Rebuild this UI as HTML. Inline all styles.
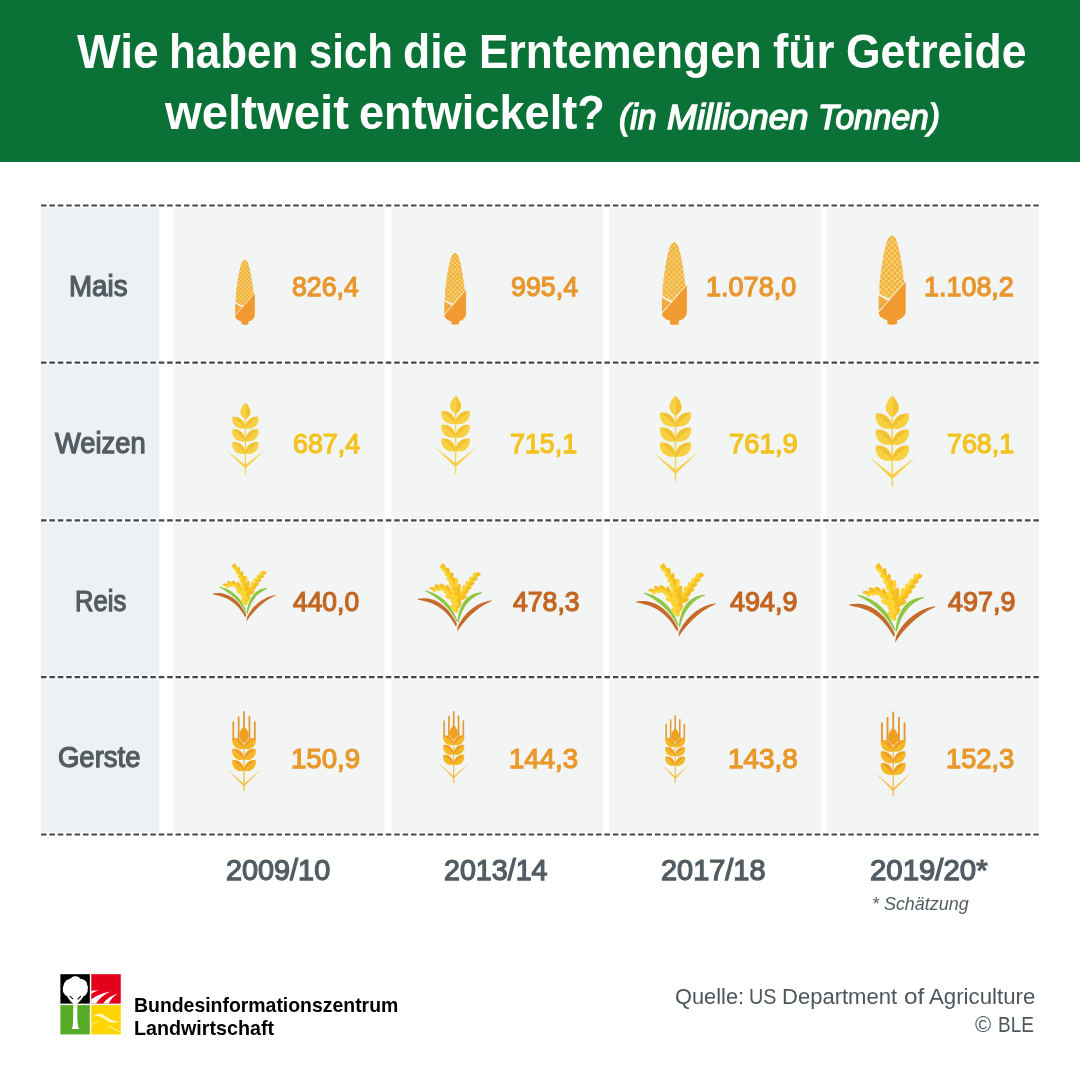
<!DOCTYPE html>
<html lang="de"><head><meta charset="utf-8"><title>Erntemengen für Getreide weltweit</title>
<style>
html,body{margin:0;padding:0;background:#fff}
body{width:1080px;height:1080px;position:relative;overflow:hidden;font-family:'Liberation Sans',sans-serif}
.hd{position:absolute;left:0;top:0;width:1080px;height:162px;background:#0a7236}
.t{display:block;position:absolute;white-space:nowrap;line-height:1;transform-origin:0 0}
svg{position:absolute;left:0;top:0}
h1,p{margin:0;font-size:inherit;font-weight:inherit}
</style></head><body>
<div class="hd"></div>
<svg width="1080" height="1080" viewBox="0 0 1080 1080">
<rect x="41" y="207.4" width="118.4" height="625" fill="#edf1f4"/>
<rect x="173" y="207.4" width="211.5" height="625" fill="#f2f5f4"/>
<rect x="391.5" y="207.4" width="211.7" height="625" fill="#f2f5f4"/>
<rect x="609" y="207.4" width="212.0" height="625" fill="#f2f5f4"/>
<rect x="825.9" y="207.4" width="213.1" height="625" fill="#f2f5f4"/>
<line x1="41" y1="205.5" x2="1039" y2="205.5" stroke="#fff" stroke-width="4.6" opacity="0.85"/>
<line x1="41" y1="205.5" x2="1038.8" y2="205.5" stroke="#42484d" stroke-width="2.2" stroke-dasharray="5.5 2.91"/>
<line x1="41" y1="362.6" x2="1039" y2="362.6" stroke="#fff" stroke-width="4.6" opacity="0.85"/>
<line x1="41" y1="362.6" x2="1038.8" y2="362.6" stroke="#42484d" stroke-width="2.2" stroke-dasharray="5.5 2.91"/>
<line x1="41" y1="520.3" x2="1039" y2="520.3" stroke="#fff" stroke-width="4.6" opacity="0.85"/>
<line x1="41" y1="520.3" x2="1038.8" y2="520.3" stroke="#42484d" stroke-width="2.2" stroke-dasharray="5.5 2.91"/>
<line x1="41" y1="677.1" x2="1039" y2="677.1" stroke="#fff" stroke-width="4.6" opacity="0.85"/>
<line x1="41" y1="677.1" x2="1038.8" y2="677.1" stroke="#42484d" stroke-width="2.2" stroke-dasharray="5.5 2.91"/>
<line x1="41" y1="834.5" x2="1039" y2="834.5" stroke="#fff" stroke-width="4.6" opacity="0.85"/>
<line x1="41" y1="834.5" x2="1038.8" y2="834.5" stroke="#42484d" stroke-width="2.2" stroke-dasharray="5.5 2.91"/>
<g transform="translate(235.15 259.6) scale(0.7244)"><clipPath id="cc245"><path d="M-2 -2 L30 -2 L30 42.3 L10.9 64.1 L-2 57.2Z"/></clipPath><clipPath id="cn245"><path d="M13.3 0 L11.3 1.5 L9.81 3 L9.1 4.5 L8.51 6 L8 7.5 L7.54 9 L7.12 10.5 L6.73 12 L6.37 13.5 L6.03 15 L5.71 16.5 L5.4 18 L5.11 19.5 L4.83 21 L4.56 22.5 L4.3 24 L4.05 25.5 L3.8 27 L3.57 28.5 L3.34 30 L3.11 31.5 L2.89 33 L2.68 34.5 L2.47 36 L2.27 37.5 L2.07 39 L1.88 40.5 L1.69 42 L1.5 43.5 L1.32 45 L1.14 46.5 L0.96 48 L0.9 49.5 L0.9 51 L0.9 52.5 L0.9 54 L0.9 55.5 L0.9 57 L0.9 58.5 L0.9 60 L0.9 61.5 L0.9 63 L0.9 64.5 L0.9 66 L0.9 67.5 L0.9 69 L25.6 69 L25.6 67.5 L25.6 66 L25.6 64.5 L25.6 63 L25.6 61.5 L25.6 60 L25.6 58.5 L25.6 57 L25.6 55.5 L25.6 54 L25.6 52.5 L25.6 51 L25.6 49.5 L25.6 48 L25.46 46.5 L25.28 45 L25.1 43.5 L24.91 42 L24.72 40.5 L24.53 39 L24.33 37.5 L24.13 36 L23.92 34.5 L23.71 33 L23.49 31.5 L23.26 30 L23.03 28.5 L22.8 27 L22.55 25.5 L22.3 24 L22.04 22.5 L21.77 21 L21.49 19.5 L21.2 18 L20.89 16.5 L20.57 15 L20.23 13.5 L19.87 12 L19.48 10.5 L19.06 9 L18.6 7.5 L18.09 6 L17.5 4.5 L16.79 3 L15.3 1.5 L13.3 0Z"/></clipPath><g clip-path="url(#cc245)"><g clip-path="url(#cn245)"><rect x="0" y="0" width="28" height="70" fill="#f7d27a"/><g fill="#f1b23c"><circle cx="13.3" cy="1.6" r="1.75"/><circle cx="10.5" cy="4.4" r="1.75"/><circle cx="16.1" cy="4.4" r="1.75"/><circle cx="7.7" cy="7.2" r="1.75"/><circle cx="13.3" cy="7.2" r="1.75"/><circle cx="18.9" cy="7.2" r="1.75"/><circle cx="10.5" cy="10" r="1.75"/><circle cx="16.1" cy="10" r="1.75"/><circle cx="7.7" cy="12.8" r="1.75"/><circle cx="13.3" cy="12.8" r="1.75"/><circle cx="18.9" cy="12.8" r="1.75"/><circle cx="4.9" cy="15.6" r="1.75"/><circle cx="10.5" cy="15.6" r="1.75"/><circle cx="16.1" cy="15.6" r="1.75"/><circle cx="21.7" cy="15.6" r="1.75"/><circle cx="7.7" cy="18.4" r="1.75"/><circle cx="13.3" cy="18.4" r="1.75"/><circle cx="18.9" cy="18.4" r="1.75"/><circle cx="4.9" cy="21.2" r="1.75"/><circle cx="10.5" cy="21.2" r="1.75"/><circle cx="16.1" cy="21.2" r="1.75"/><circle cx="21.7" cy="21.2" r="1.75"/><circle cx="7.7" cy="24" r="1.75"/><circle cx="13.3" cy="24" r="1.75"/><circle cx="18.9" cy="24" r="1.75"/><circle cx="4.9" cy="26.8" r="1.75"/><circle cx="10.5" cy="26.8" r="1.75"/><circle cx="16.1" cy="26.8" r="1.75"/><circle cx="21.7" cy="26.8" r="1.75"/><circle cx="2.1" cy="29.6" r="1.75"/><circle cx="7.7" cy="29.6" r="1.75"/><circle cx="13.3" cy="29.6" r="1.75"/><circle cx="18.9" cy="29.6" r="1.75"/><circle cx="24.5" cy="29.6" r="1.75"/><circle cx="4.9" cy="32.4" r="1.75"/><circle cx="10.5" cy="32.4" r="1.75"/><circle cx="16.1" cy="32.4" r="1.75"/><circle cx="21.7" cy="32.4" r="1.75"/><circle cx="2.1" cy="35.2" r="1.75"/><circle cx="7.7" cy="35.2" r="1.75"/><circle cx="13.3" cy="35.2" r="1.75"/><circle cx="18.9" cy="35.2" r="1.75"/><circle cx="24.5" cy="35.2" r="1.75"/><circle cx="4.9" cy="38" r="1.75"/><circle cx="10.5" cy="38" r="1.75"/><circle cx="16.1" cy="38" r="1.75"/><circle cx="21.7" cy="38" r="1.75"/><circle cx="2.1" cy="40.8" r="1.75"/><circle cx="7.7" cy="40.8" r="1.75"/><circle cx="13.3" cy="40.8" r="1.75"/><circle cx="18.9" cy="40.8" r="1.75"/><circle cx="24.5" cy="40.8" r="1.75"/><circle cx="4.9" cy="43.6" r="1.75"/><circle cx="10.5" cy="43.6" r="1.75"/><circle cx="16.1" cy="43.6" r="1.75"/><circle cx="21.7" cy="43.6" r="1.75"/><circle cx="2.1" cy="46.4" r="1.75"/><circle cx="7.7" cy="46.4" r="1.75"/><circle cx="13.3" cy="46.4" r="1.75"/><circle cx="18.9" cy="46.4" r="1.75"/><circle cx="24.5" cy="46.4" r="1.75"/><circle cx="-0.7" cy="49.2" r="1.75"/><circle cx="4.9" cy="49.2" r="1.75"/><circle cx="10.5" cy="49.2" r="1.75"/><circle cx="16.1" cy="49.2" r="1.75"/><circle cx="21.7" cy="49.2" r="1.75"/><circle cx="27.3" cy="49.2" r="1.75"/><circle cx="2.1" cy="52" r="1.75"/><circle cx="7.7" cy="52" r="1.75"/><circle cx="13.3" cy="52" r="1.75"/><circle cx="18.9" cy="52" r="1.75"/><circle cx="24.5" cy="52" r="1.75"/><circle cx="-0.7" cy="54.8" r="1.75"/><circle cx="4.9" cy="54.8" r="1.75"/><circle cx="10.5" cy="54.8" r="1.75"/><circle cx="16.1" cy="54.8" r="1.75"/><circle cx="21.7" cy="54.8" r="1.75"/><circle cx="27.3" cy="54.8" r="1.75"/><circle cx="2.1" cy="57.6" r="1.75"/><circle cx="7.7" cy="57.6" r="1.75"/><circle cx="13.3" cy="57.6" r="1.75"/><circle cx="18.9" cy="57.6" r="1.75"/><circle cx="24.5" cy="57.6" r="1.75"/><circle cx="-0.7" cy="60.4" r="1.75"/><circle cx="4.9" cy="60.4" r="1.75"/><circle cx="10.5" cy="60.4" r="1.75"/><circle cx="16.1" cy="60.4" r="1.75"/><circle cx="21.7" cy="60.4" r="1.75"/><circle cx="27.3" cy="60.4" r="1.75"/><circle cx="2.1" cy="63.2" r="1.75"/><circle cx="7.7" cy="63.2" r="1.75"/><circle cx="13.3" cy="63.2" r="1.75"/><circle cx="18.9" cy="63.2" r="1.75"/><circle cx="24.5" cy="63.2" r="1.75"/><circle cx="-0.7" cy="66" r="1.75"/><circle cx="4.9" cy="66" r="1.75"/><circle cx="10.5" cy="66" r="1.75"/><circle cx="16.1" cy="66" r="1.75"/><circle cx="21.7" cy="66" r="1.75"/><circle cx="27.3" cy="66" r="1.75"/><circle cx="2.1" cy="68.8" r="1.75"/><circle cx="7.7" cy="68.8" r="1.75"/><circle cx="13.3" cy="68.8" r="1.75"/><circle cx="18.9" cy="68.8" r="1.75"/><circle cx="24.5" cy="68.8" r="1.75"/></g></g></g><path d="M0 60.6 L9.6 65.8 L0 76.4Z" fill="#f3ab3d"/><path d="M27.2 46.6 L27.2 76 C27.2 81 23 84.5 18.3 85.6 L18.6 88.2 C18.6 89.6 17 89.9 13.6 89.9 C10.2 89.9 8.6 89.6 8.6 88.2 L8.9 85.6 C4.5 84.5 0 81.5 0 78 L27.2 46.6Z" fill="#f19a32"/></g>
<g transform="translate(444.3 252.7) scale(0.8011)"><clipPath id="cc455"><path d="M-2 -2 L30 -2 L30 42.3 L10.9 64.1 L-2 57.2Z"/></clipPath><clipPath id="cn455"><path d="M13.3 0 L11.3 1.5 L9.81 3 L9.1 4.5 L8.51 6 L8 7.5 L7.54 9 L7.12 10.5 L6.73 12 L6.37 13.5 L6.03 15 L5.71 16.5 L5.4 18 L5.11 19.5 L4.83 21 L4.56 22.5 L4.3 24 L4.05 25.5 L3.8 27 L3.57 28.5 L3.34 30 L3.11 31.5 L2.89 33 L2.68 34.5 L2.47 36 L2.27 37.5 L2.07 39 L1.88 40.5 L1.69 42 L1.5 43.5 L1.32 45 L1.14 46.5 L0.96 48 L0.9 49.5 L0.9 51 L0.9 52.5 L0.9 54 L0.9 55.5 L0.9 57 L0.9 58.5 L0.9 60 L0.9 61.5 L0.9 63 L0.9 64.5 L0.9 66 L0.9 67.5 L0.9 69 L25.6 69 L25.6 67.5 L25.6 66 L25.6 64.5 L25.6 63 L25.6 61.5 L25.6 60 L25.6 58.5 L25.6 57 L25.6 55.5 L25.6 54 L25.6 52.5 L25.6 51 L25.6 49.5 L25.6 48 L25.46 46.5 L25.28 45 L25.1 43.5 L24.91 42 L24.72 40.5 L24.53 39 L24.33 37.5 L24.13 36 L23.92 34.5 L23.71 33 L23.49 31.5 L23.26 30 L23.03 28.5 L22.8 27 L22.55 25.5 L22.3 24 L22.04 22.5 L21.77 21 L21.49 19.5 L21.2 18 L20.89 16.5 L20.57 15 L20.23 13.5 L19.87 12 L19.48 10.5 L19.06 9 L18.6 7.5 L18.09 6 L17.5 4.5 L16.79 3 L15.3 1.5 L13.3 0Z"/></clipPath><g clip-path="url(#cc455)"><g clip-path="url(#cn455)"><rect x="0" y="0" width="28" height="70" fill="#f7d27a"/><g fill="#f1b23c"><circle cx="13.3" cy="1.6" r="1.75"/><circle cx="10.5" cy="4.4" r="1.75"/><circle cx="16.1" cy="4.4" r="1.75"/><circle cx="7.7" cy="7.2" r="1.75"/><circle cx="13.3" cy="7.2" r="1.75"/><circle cx="18.9" cy="7.2" r="1.75"/><circle cx="10.5" cy="10" r="1.75"/><circle cx="16.1" cy="10" r="1.75"/><circle cx="7.7" cy="12.8" r="1.75"/><circle cx="13.3" cy="12.8" r="1.75"/><circle cx="18.9" cy="12.8" r="1.75"/><circle cx="4.9" cy="15.6" r="1.75"/><circle cx="10.5" cy="15.6" r="1.75"/><circle cx="16.1" cy="15.6" r="1.75"/><circle cx="21.7" cy="15.6" r="1.75"/><circle cx="7.7" cy="18.4" r="1.75"/><circle cx="13.3" cy="18.4" r="1.75"/><circle cx="18.9" cy="18.4" r="1.75"/><circle cx="4.9" cy="21.2" r="1.75"/><circle cx="10.5" cy="21.2" r="1.75"/><circle cx="16.1" cy="21.2" r="1.75"/><circle cx="21.7" cy="21.2" r="1.75"/><circle cx="7.7" cy="24" r="1.75"/><circle cx="13.3" cy="24" r="1.75"/><circle cx="18.9" cy="24" r="1.75"/><circle cx="4.9" cy="26.8" r="1.75"/><circle cx="10.5" cy="26.8" r="1.75"/><circle cx="16.1" cy="26.8" r="1.75"/><circle cx="21.7" cy="26.8" r="1.75"/><circle cx="2.1" cy="29.6" r="1.75"/><circle cx="7.7" cy="29.6" r="1.75"/><circle cx="13.3" cy="29.6" r="1.75"/><circle cx="18.9" cy="29.6" r="1.75"/><circle cx="24.5" cy="29.6" r="1.75"/><circle cx="4.9" cy="32.4" r="1.75"/><circle cx="10.5" cy="32.4" r="1.75"/><circle cx="16.1" cy="32.4" r="1.75"/><circle cx="21.7" cy="32.4" r="1.75"/><circle cx="2.1" cy="35.2" r="1.75"/><circle cx="7.7" cy="35.2" r="1.75"/><circle cx="13.3" cy="35.2" r="1.75"/><circle cx="18.9" cy="35.2" r="1.75"/><circle cx="24.5" cy="35.2" r="1.75"/><circle cx="4.9" cy="38" r="1.75"/><circle cx="10.5" cy="38" r="1.75"/><circle cx="16.1" cy="38" r="1.75"/><circle cx="21.7" cy="38" r="1.75"/><circle cx="2.1" cy="40.8" r="1.75"/><circle cx="7.7" cy="40.8" r="1.75"/><circle cx="13.3" cy="40.8" r="1.75"/><circle cx="18.9" cy="40.8" r="1.75"/><circle cx="24.5" cy="40.8" r="1.75"/><circle cx="4.9" cy="43.6" r="1.75"/><circle cx="10.5" cy="43.6" r="1.75"/><circle cx="16.1" cy="43.6" r="1.75"/><circle cx="21.7" cy="43.6" r="1.75"/><circle cx="2.1" cy="46.4" r="1.75"/><circle cx="7.7" cy="46.4" r="1.75"/><circle cx="13.3" cy="46.4" r="1.75"/><circle cx="18.9" cy="46.4" r="1.75"/><circle cx="24.5" cy="46.4" r="1.75"/><circle cx="-0.7" cy="49.2" r="1.75"/><circle cx="4.9" cy="49.2" r="1.75"/><circle cx="10.5" cy="49.2" r="1.75"/><circle cx="16.1" cy="49.2" r="1.75"/><circle cx="21.7" cy="49.2" r="1.75"/><circle cx="27.3" cy="49.2" r="1.75"/><circle cx="2.1" cy="52" r="1.75"/><circle cx="7.7" cy="52" r="1.75"/><circle cx="13.3" cy="52" r="1.75"/><circle cx="18.9" cy="52" r="1.75"/><circle cx="24.5" cy="52" r="1.75"/><circle cx="-0.7" cy="54.8" r="1.75"/><circle cx="4.9" cy="54.8" r="1.75"/><circle cx="10.5" cy="54.8" r="1.75"/><circle cx="16.1" cy="54.8" r="1.75"/><circle cx="21.7" cy="54.8" r="1.75"/><circle cx="27.3" cy="54.8" r="1.75"/><circle cx="2.1" cy="57.6" r="1.75"/><circle cx="7.7" cy="57.6" r="1.75"/><circle cx="13.3" cy="57.6" r="1.75"/><circle cx="18.9" cy="57.6" r="1.75"/><circle cx="24.5" cy="57.6" r="1.75"/><circle cx="-0.7" cy="60.4" r="1.75"/><circle cx="4.9" cy="60.4" r="1.75"/><circle cx="10.5" cy="60.4" r="1.75"/><circle cx="16.1" cy="60.4" r="1.75"/><circle cx="21.7" cy="60.4" r="1.75"/><circle cx="27.3" cy="60.4" r="1.75"/><circle cx="2.1" cy="63.2" r="1.75"/><circle cx="7.7" cy="63.2" r="1.75"/><circle cx="13.3" cy="63.2" r="1.75"/><circle cx="18.9" cy="63.2" r="1.75"/><circle cx="24.5" cy="63.2" r="1.75"/><circle cx="-0.7" cy="66" r="1.75"/><circle cx="4.9" cy="66" r="1.75"/><circle cx="10.5" cy="66" r="1.75"/><circle cx="16.1" cy="66" r="1.75"/><circle cx="21.7" cy="66" r="1.75"/><circle cx="27.3" cy="66" r="1.75"/><circle cx="2.1" cy="68.8" r="1.75"/><circle cx="7.7" cy="68.8" r="1.75"/><circle cx="13.3" cy="68.8" r="1.75"/><circle cx="18.9" cy="68.8" r="1.75"/><circle cx="24.5" cy="68.8" r="1.75"/></g></g></g><path d="M0 60.6 L9.6 65.8 L0 76.4Z" fill="#f3ab3d"/><path d="M27.2 46.6 L27.2 76 C27.2 81 23 84.5 18.3 85.6 L18.6 88.2 C18.6 89.6 17 89.9 13.6 89.9 C10.2 89.9 8.6 89.6 8.6 88.2 L8.9 85.6 C4.5 84.5 0 81.5 0 78 L27.2 46.6Z" fill="#f19a32"/></g>
<g transform="translate(661.9 242.1) scale(0.9189)"><clipPath id="cc674"><path d="M-2 -2 L30 -2 L30 42.3 L10.9 64.1 L-2 57.2Z"/></clipPath><clipPath id="cn674"><path d="M13.3 0 L11.3 1.5 L9.81 3 L9.1 4.5 L8.51 6 L8 7.5 L7.54 9 L7.12 10.5 L6.73 12 L6.37 13.5 L6.03 15 L5.71 16.5 L5.4 18 L5.11 19.5 L4.83 21 L4.56 22.5 L4.3 24 L4.05 25.5 L3.8 27 L3.57 28.5 L3.34 30 L3.11 31.5 L2.89 33 L2.68 34.5 L2.47 36 L2.27 37.5 L2.07 39 L1.88 40.5 L1.69 42 L1.5 43.5 L1.32 45 L1.14 46.5 L0.96 48 L0.9 49.5 L0.9 51 L0.9 52.5 L0.9 54 L0.9 55.5 L0.9 57 L0.9 58.5 L0.9 60 L0.9 61.5 L0.9 63 L0.9 64.5 L0.9 66 L0.9 67.5 L0.9 69 L25.6 69 L25.6 67.5 L25.6 66 L25.6 64.5 L25.6 63 L25.6 61.5 L25.6 60 L25.6 58.5 L25.6 57 L25.6 55.5 L25.6 54 L25.6 52.5 L25.6 51 L25.6 49.5 L25.6 48 L25.46 46.5 L25.28 45 L25.1 43.5 L24.91 42 L24.72 40.5 L24.53 39 L24.33 37.5 L24.13 36 L23.92 34.5 L23.71 33 L23.49 31.5 L23.26 30 L23.03 28.5 L22.8 27 L22.55 25.5 L22.3 24 L22.04 22.5 L21.77 21 L21.49 19.5 L21.2 18 L20.89 16.5 L20.57 15 L20.23 13.5 L19.87 12 L19.48 10.5 L19.06 9 L18.6 7.5 L18.09 6 L17.5 4.5 L16.79 3 L15.3 1.5 L13.3 0Z"/></clipPath><g clip-path="url(#cc674)"><g clip-path="url(#cn674)"><rect x="0" y="0" width="28" height="70" fill="#f7d27a"/><g fill="#f1b23c"><circle cx="13.3" cy="1.6" r="1.75"/><circle cx="10.5" cy="4.4" r="1.75"/><circle cx="16.1" cy="4.4" r="1.75"/><circle cx="7.7" cy="7.2" r="1.75"/><circle cx="13.3" cy="7.2" r="1.75"/><circle cx="18.9" cy="7.2" r="1.75"/><circle cx="10.5" cy="10" r="1.75"/><circle cx="16.1" cy="10" r="1.75"/><circle cx="7.7" cy="12.8" r="1.75"/><circle cx="13.3" cy="12.8" r="1.75"/><circle cx="18.9" cy="12.8" r="1.75"/><circle cx="4.9" cy="15.6" r="1.75"/><circle cx="10.5" cy="15.6" r="1.75"/><circle cx="16.1" cy="15.6" r="1.75"/><circle cx="21.7" cy="15.6" r="1.75"/><circle cx="7.7" cy="18.4" r="1.75"/><circle cx="13.3" cy="18.4" r="1.75"/><circle cx="18.9" cy="18.4" r="1.75"/><circle cx="4.9" cy="21.2" r="1.75"/><circle cx="10.5" cy="21.2" r="1.75"/><circle cx="16.1" cy="21.2" r="1.75"/><circle cx="21.7" cy="21.2" r="1.75"/><circle cx="7.7" cy="24" r="1.75"/><circle cx="13.3" cy="24" r="1.75"/><circle cx="18.9" cy="24" r="1.75"/><circle cx="4.9" cy="26.8" r="1.75"/><circle cx="10.5" cy="26.8" r="1.75"/><circle cx="16.1" cy="26.8" r="1.75"/><circle cx="21.7" cy="26.8" r="1.75"/><circle cx="2.1" cy="29.6" r="1.75"/><circle cx="7.7" cy="29.6" r="1.75"/><circle cx="13.3" cy="29.6" r="1.75"/><circle cx="18.9" cy="29.6" r="1.75"/><circle cx="24.5" cy="29.6" r="1.75"/><circle cx="4.9" cy="32.4" r="1.75"/><circle cx="10.5" cy="32.4" r="1.75"/><circle cx="16.1" cy="32.4" r="1.75"/><circle cx="21.7" cy="32.4" r="1.75"/><circle cx="2.1" cy="35.2" r="1.75"/><circle cx="7.7" cy="35.2" r="1.75"/><circle cx="13.3" cy="35.2" r="1.75"/><circle cx="18.9" cy="35.2" r="1.75"/><circle cx="24.5" cy="35.2" r="1.75"/><circle cx="4.9" cy="38" r="1.75"/><circle cx="10.5" cy="38" r="1.75"/><circle cx="16.1" cy="38" r="1.75"/><circle cx="21.7" cy="38" r="1.75"/><circle cx="2.1" cy="40.8" r="1.75"/><circle cx="7.7" cy="40.8" r="1.75"/><circle cx="13.3" cy="40.8" r="1.75"/><circle cx="18.9" cy="40.8" r="1.75"/><circle cx="24.5" cy="40.8" r="1.75"/><circle cx="4.9" cy="43.6" r="1.75"/><circle cx="10.5" cy="43.6" r="1.75"/><circle cx="16.1" cy="43.6" r="1.75"/><circle cx="21.7" cy="43.6" r="1.75"/><circle cx="2.1" cy="46.4" r="1.75"/><circle cx="7.7" cy="46.4" r="1.75"/><circle cx="13.3" cy="46.4" r="1.75"/><circle cx="18.9" cy="46.4" r="1.75"/><circle cx="24.5" cy="46.4" r="1.75"/><circle cx="-0.7" cy="49.2" r="1.75"/><circle cx="4.9" cy="49.2" r="1.75"/><circle cx="10.5" cy="49.2" r="1.75"/><circle cx="16.1" cy="49.2" r="1.75"/><circle cx="21.7" cy="49.2" r="1.75"/><circle cx="27.3" cy="49.2" r="1.75"/><circle cx="2.1" cy="52" r="1.75"/><circle cx="7.7" cy="52" r="1.75"/><circle cx="13.3" cy="52" r="1.75"/><circle cx="18.9" cy="52" r="1.75"/><circle cx="24.5" cy="52" r="1.75"/><circle cx="-0.7" cy="54.8" r="1.75"/><circle cx="4.9" cy="54.8" r="1.75"/><circle cx="10.5" cy="54.8" r="1.75"/><circle cx="16.1" cy="54.8" r="1.75"/><circle cx="21.7" cy="54.8" r="1.75"/><circle cx="27.3" cy="54.8" r="1.75"/><circle cx="2.1" cy="57.6" r="1.75"/><circle cx="7.7" cy="57.6" r="1.75"/><circle cx="13.3" cy="57.6" r="1.75"/><circle cx="18.9" cy="57.6" r="1.75"/><circle cx="24.5" cy="57.6" r="1.75"/><circle cx="-0.7" cy="60.4" r="1.75"/><circle cx="4.9" cy="60.4" r="1.75"/><circle cx="10.5" cy="60.4" r="1.75"/><circle cx="16.1" cy="60.4" r="1.75"/><circle cx="21.7" cy="60.4" r="1.75"/><circle cx="27.3" cy="60.4" r="1.75"/><circle cx="2.1" cy="63.2" r="1.75"/><circle cx="7.7" cy="63.2" r="1.75"/><circle cx="13.3" cy="63.2" r="1.75"/><circle cx="18.9" cy="63.2" r="1.75"/><circle cx="24.5" cy="63.2" r="1.75"/><circle cx="-0.7" cy="66" r="1.75"/><circle cx="4.9" cy="66" r="1.75"/><circle cx="10.5" cy="66" r="1.75"/><circle cx="16.1" cy="66" r="1.75"/><circle cx="21.7" cy="66" r="1.75"/><circle cx="27.3" cy="66" r="1.75"/><circle cx="2.1" cy="68.8" r="1.75"/><circle cx="7.7" cy="68.8" r="1.75"/><circle cx="13.3" cy="68.8" r="1.75"/><circle cx="18.9" cy="68.8" r="1.75"/><circle cx="24.5" cy="68.8" r="1.75"/></g></g></g><path d="M0 60.6 L9.6 65.8 L0 76.4Z" fill="#f3ab3d"/><path d="M27.2 46.6 L27.2 76 C27.2 81 23 84.5 18.3 85.6 L18.6 88.2 C18.6 89.6 17 89.9 13.6 89.9 C10.2 89.9 8.6 89.6 8.6 88.2 L8.9 85.6 C4.5 84.5 0 81.5 0 78 L27.2 46.6Z" fill="#f19a32"/></g>
<g transform="translate(878.66 235.2) scale(0.9956)"><clipPath id="cc892"><path d="M-2 -2 L30 -2 L30 42.3 L10.9 64.1 L-2 57.2Z"/></clipPath><clipPath id="cn892"><path d="M13.3 0 L11.3 1.5 L9.81 3 L9.1 4.5 L8.51 6 L8 7.5 L7.54 9 L7.12 10.5 L6.73 12 L6.37 13.5 L6.03 15 L5.71 16.5 L5.4 18 L5.11 19.5 L4.83 21 L4.56 22.5 L4.3 24 L4.05 25.5 L3.8 27 L3.57 28.5 L3.34 30 L3.11 31.5 L2.89 33 L2.68 34.5 L2.47 36 L2.27 37.5 L2.07 39 L1.88 40.5 L1.69 42 L1.5 43.5 L1.32 45 L1.14 46.5 L0.96 48 L0.9 49.5 L0.9 51 L0.9 52.5 L0.9 54 L0.9 55.5 L0.9 57 L0.9 58.5 L0.9 60 L0.9 61.5 L0.9 63 L0.9 64.5 L0.9 66 L0.9 67.5 L0.9 69 L25.6 69 L25.6 67.5 L25.6 66 L25.6 64.5 L25.6 63 L25.6 61.5 L25.6 60 L25.6 58.5 L25.6 57 L25.6 55.5 L25.6 54 L25.6 52.5 L25.6 51 L25.6 49.5 L25.6 48 L25.46 46.5 L25.28 45 L25.1 43.5 L24.91 42 L24.72 40.5 L24.53 39 L24.33 37.5 L24.13 36 L23.92 34.5 L23.71 33 L23.49 31.5 L23.26 30 L23.03 28.5 L22.8 27 L22.55 25.5 L22.3 24 L22.04 22.5 L21.77 21 L21.49 19.5 L21.2 18 L20.89 16.5 L20.57 15 L20.23 13.5 L19.87 12 L19.48 10.5 L19.06 9 L18.6 7.5 L18.09 6 L17.5 4.5 L16.79 3 L15.3 1.5 L13.3 0Z"/></clipPath><g clip-path="url(#cc892)"><g clip-path="url(#cn892)"><rect x="0" y="0" width="28" height="70" fill="#f7d27a"/><g fill="#f1b23c"><circle cx="13.3" cy="1.6" r="1.75"/><circle cx="10.5" cy="4.4" r="1.75"/><circle cx="16.1" cy="4.4" r="1.75"/><circle cx="7.7" cy="7.2" r="1.75"/><circle cx="13.3" cy="7.2" r="1.75"/><circle cx="18.9" cy="7.2" r="1.75"/><circle cx="10.5" cy="10" r="1.75"/><circle cx="16.1" cy="10" r="1.75"/><circle cx="7.7" cy="12.8" r="1.75"/><circle cx="13.3" cy="12.8" r="1.75"/><circle cx="18.9" cy="12.8" r="1.75"/><circle cx="4.9" cy="15.6" r="1.75"/><circle cx="10.5" cy="15.6" r="1.75"/><circle cx="16.1" cy="15.6" r="1.75"/><circle cx="21.7" cy="15.6" r="1.75"/><circle cx="7.7" cy="18.4" r="1.75"/><circle cx="13.3" cy="18.4" r="1.75"/><circle cx="18.9" cy="18.4" r="1.75"/><circle cx="4.9" cy="21.2" r="1.75"/><circle cx="10.5" cy="21.2" r="1.75"/><circle cx="16.1" cy="21.2" r="1.75"/><circle cx="21.7" cy="21.2" r="1.75"/><circle cx="7.7" cy="24" r="1.75"/><circle cx="13.3" cy="24" r="1.75"/><circle cx="18.9" cy="24" r="1.75"/><circle cx="4.9" cy="26.8" r="1.75"/><circle cx="10.5" cy="26.8" r="1.75"/><circle cx="16.1" cy="26.8" r="1.75"/><circle cx="21.7" cy="26.8" r="1.75"/><circle cx="2.1" cy="29.6" r="1.75"/><circle cx="7.7" cy="29.6" r="1.75"/><circle cx="13.3" cy="29.6" r="1.75"/><circle cx="18.9" cy="29.6" r="1.75"/><circle cx="24.5" cy="29.6" r="1.75"/><circle cx="4.9" cy="32.4" r="1.75"/><circle cx="10.5" cy="32.4" r="1.75"/><circle cx="16.1" cy="32.4" r="1.75"/><circle cx="21.7" cy="32.4" r="1.75"/><circle cx="2.1" cy="35.2" r="1.75"/><circle cx="7.7" cy="35.2" r="1.75"/><circle cx="13.3" cy="35.2" r="1.75"/><circle cx="18.9" cy="35.2" r="1.75"/><circle cx="24.5" cy="35.2" r="1.75"/><circle cx="4.9" cy="38" r="1.75"/><circle cx="10.5" cy="38" r="1.75"/><circle cx="16.1" cy="38" r="1.75"/><circle cx="21.7" cy="38" r="1.75"/><circle cx="2.1" cy="40.8" r="1.75"/><circle cx="7.7" cy="40.8" r="1.75"/><circle cx="13.3" cy="40.8" r="1.75"/><circle cx="18.9" cy="40.8" r="1.75"/><circle cx="24.5" cy="40.8" r="1.75"/><circle cx="4.9" cy="43.6" r="1.75"/><circle cx="10.5" cy="43.6" r="1.75"/><circle cx="16.1" cy="43.6" r="1.75"/><circle cx="21.7" cy="43.6" r="1.75"/><circle cx="2.1" cy="46.4" r="1.75"/><circle cx="7.7" cy="46.4" r="1.75"/><circle cx="13.3" cy="46.4" r="1.75"/><circle cx="18.9" cy="46.4" r="1.75"/><circle cx="24.5" cy="46.4" r="1.75"/><circle cx="-0.7" cy="49.2" r="1.75"/><circle cx="4.9" cy="49.2" r="1.75"/><circle cx="10.5" cy="49.2" r="1.75"/><circle cx="16.1" cy="49.2" r="1.75"/><circle cx="21.7" cy="49.2" r="1.75"/><circle cx="27.3" cy="49.2" r="1.75"/><circle cx="2.1" cy="52" r="1.75"/><circle cx="7.7" cy="52" r="1.75"/><circle cx="13.3" cy="52" r="1.75"/><circle cx="18.9" cy="52" r="1.75"/><circle cx="24.5" cy="52" r="1.75"/><circle cx="-0.7" cy="54.8" r="1.75"/><circle cx="4.9" cy="54.8" r="1.75"/><circle cx="10.5" cy="54.8" r="1.75"/><circle cx="16.1" cy="54.8" r="1.75"/><circle cx="21.7" cy="54.8" r="1.75"/><circle cx="27.3" cy="54.8" r="1.75"/><circle cx="2.1" cy="57.6" r="1.75"/><circle cx="7.7" cy="57.6" r="1.75"/><circle cx="13.3" cy="57.6" r="1.75"/><circle cx="18.9" cy="57.6" r="1.75"/><circle cx="24.5" cy="57.6" r="1.75"/><circle cx="-0.7" cy="60.4" r="1.75"/><circle cx="4.9" cy="60.4" r="1.75"/><circle cx="10.5" cy="60.4" r="1.75"/><circle cx="16.1" cy="60.4" r="1.75"/><circle cx="21.7" cy="60.4" r="1.75"/><circle cx="27.3" cy="60.4" r="1.75"/><circle cx="2.1" cy="63.2" r="1.75"/><circle cx="7.7" cy="63.2" r="1.75"/><circle cx="13.3" cy="63.2" r="1.75"/><circle cx="18.9" cy="63.2" r="1.75"/><circle cx="24.5" cy="63.2" r="1.75"/><circle cx="-0.7" cy="66" r="1.75"/><circle cx="4.9" cy="66" r="1.75"/><circle cx="10.5" cy="66" r="1.75"/><circle cx="16.1" cy="66" r="1.75"/><circle cx="21.7" cy="66" r="1.75"/><circle cx="27.3" cy="66" r="1.75"/><circle cx="2.1" cy="68.8" r="1.75"/><circle cx="7.7" cy="68.8" r="1.75"/><circle cx="13.3" cy="68.8" r="1.75"/><circle cx="18.9" cy="68.8" r="1.75"/><circle cx="24.5" cy="68.8" r="1.75"/></g></g></g><path d="M0 60.6 L9.6 65.8 L0 76.4Z" fill="#f3ab3d"/><path d="M27.2 46.6 L27.2 76 C27.2 81 23 84.5 18.3 85.6 L18.6 88.2 C18.6 89.6 17 89.9 13.6 89.9 C10.2 89.9 8.6 89.6 8.6 88.2 L8.9 85.6 C4.5 84.5 0 81.5 0 78 L27.2 46.6Z" fill="#f19a32"/></g>
<g transform="translate(226.43 402.4) scale(0.8002)"><path d="M22.8 18 L24.599999999999998 18 L24.5 90.1 L22.9 90.1Z" fill="#f7d559"/><path d="M23.7 78.2 L0 59.9 L23.7 82.8 L47.4 59.9Z" fill="#f7d04a"/><path d="M23.7 64.2 C13.98 66.54 5.56 59.24 7.5 49.6 L23.7 64.2Z" fill="#f8d040"/><path d="M7.5 49.6 C17.54 48.14 24.02 56.02 23.7 64.2Z" fill="#f4c22d"/><path d="M23.7 64.2 C33.42 66.54 41.84 59.24 39.9 49.6 L23.7 64.2Z" fill="#f8d040"/><path d="M39.9 49.6 C29.86 48.14 23.38 56.02 23.7 64.2Z" fill="#f4c22d"/><path d="M23.7 48.4 C13.98 50.74 5.56 43.44 7.5 33.8 L23.7 48.4Z" fill="#f8d040"/><path d="M7.5 33.8 C17.54 32.34 24.02 40.22 23.7 48.4Z" fill="#f4c22d"/><path d="M23.7 48.4 C33.42 50.74 41.84 43.44 39.9 33.8 L23.7 48.4Z" fill="#f8d040"/><path d="M39.9 33.8 C29.86 32.34 23.38 40.22 23.7 48.4Z" fill="#f4c22d"/><path d="M23.7 32.6 C13.98 34.94 5.56 27.64 7.5 18 L23.7 32.6Z" fill="#f8d040"/><path d="M7.5 18 C17.54 16.54 24.02 24.42 23.7 32.6Z" fill="#f4c22d"/><path d="M23.7 32.6 C33.42 34.94 41.84 27.64 39.9 18 L23.7 32.6Z" fill="#f8d040"/><path d="M39.9 18 C29.86 16.54 23.38 24.42 23.7 32.6Z" fill="#f4c22d"/><path d="M23.7 0 C20.7 3 17.299999999999997 8 17.299999999999997 12 C17.299999999999997 16 20.7 19.5 23.7 21.5Z" fill="#f8d040"/><path d="M23.7 0 C26.7 3 30.1 8 30.1 12 C30.1 16 26.7 19.5 23.7 21.5Z" fill="#f4c22d"/></g>
<g transform="translate(435.03 395.5) scale(0.8679)"><path d="M22.8 18 L24.599999999999998 18 L24.5 90.1 L22.9 90.1Z" fill="#f7d559"/><path d="M23.7 78.2 L0 59.9 L23.7 82.8 L47.4 59.9Z" fill="#f7d04a"/><path d="M23.7 64.2 C13.98 66.54 5.56 59.24 7.5 49.6 L23.7 64.2Z" fill="#f8d040"/><path d="M7.5 49.6 C17.54 48.14 24.02 56.02 23.7 64.2Z" fill="#f4c22d"/><path d="M23.7 64.2 C33.42 66.54 41.84 59.24 39.9 49.6 L23.7 64.2Z" fill="#f8d040"/><path d="M39.9 49.6 C29.86 48.14 23.38 56.02 23.7 64.2Z" fill="#f4c22d"/><path d="M23.7 48.4 C13.98 50.74 5.56 43.44 7.5 33.8 L23.7 48.4Z" fill="#f8d040"/><path d="M7.5 33.8 C17.54 32.34 24.02 40.22 23.7 48.4Z" fill="#f4c22d"/><path d="M23.7 48.4 C33.42 50.74 41.84 43.44 39.9 33.8 L23.7 48.4Z" fill="#f8d040"/><path d="M39.9 33.8 C29.86 32.34 23.38 40.22 23.7 48.4Z" fill="#f4c22d"/><path d="M23.7 32.6 C13.98 34.94 5.56 27.64 7.5 18 L23.7 32.6Z" fill="#f8d040"/><path d="M7.5 18 C17.54 16.54 24.02 24.42 23.7 32.6Z" fill="#f4c22d"/><path d="M23.7 32.6 C33.42 34.94 41.84 27.64 39.9 18 L23.7 32.6Z" fill="#f8d040"/><path d="M39.9 18 C29.86 16.54 23.38 24.42 23.7 32.6Z" fill="#f4c22d"/><path d="M23.7 0 C20.7 3 17.299999999999997 8 17.299999999999997 12 C17.299999999999997 16 20.7 19.5 23.7 21.5Z" fill="#f8d040"/><path d="M23.7 0 C26.7 3 30.1 8 30.1 12 C30.1 16 26.7 19.5 23.7 21.5Z" fill="#f4c22d"/></g>
<g transform="translate(653.01 395.5) scale(0.9489)"><path d="M22.8 18 L24.599999999999998 18 L24.5 90.1 L22.9 90.1Z" fill="#f7d559"/><path d="M23.7 78.2 L0 59.9 L23.7 82.8 L47.4 59.9Z" fill="#f7d04a"/><path d="M23.7 64.2 C13.98 66.54 5.56 59.24 7.5 49.6 L23.7 64.2Z" fill="#f8d040"/><path d="M7.5 49.6 C17.54 48.14 24.02 56.02 23.7 64.2Z" fill="#f4c22d"/><path d="M23.7 64.2 C33.42 66.54 41.84 59.24 39.9 49.6 L23.7 64.2Z" fill="#f8d040"/><path d="M39.9 49.6 C29.86 48.14 23.38 56.02 23.7 64.2Z" fill="#f4c22d"/><path d="M23.7 48.4 C13.98 50.74 5.56 43.44 7.5 33.8 L23.7 48.4Z" fill="#f8d040"/><path d="M7.5 33.8 C17.54 32.34 24.02 40.22 23.7 48.4Z" fill="#f4c22d"/><path d="M23.7 48.4 C33.42 50.74 41.84 43.44 39.9 33.8 L23.7 48.4Z" fill="#f8d040"/><path d="M39.9 33.8 C29.86 32.34 23.38 40.22 23.7 48.4Z" fill="#f4c22d"/><path d="M23.7 32.6 C13.98 34.94 5.56 27.64 7.5 18 L23.7 32.6Z" fill="#f8d040"/><path d="M7.5 18 C17.54 16.54 24.02 24.42 23.7 32.6Z" fill="#f4c22d"/><path d="M23.7 32.6 C33.42 34.94 41.84 27.64 39.9 18 L23.7 32.6Z" fill="#f8d040"/><path d="M39.9 18 C29.86 16.54 23.38 24.42 23.7 32.6Z" fill="#f4c22d"/><path d="M23.7 0 C20.7 3 17.299999999999997 8 17.299999999999997 12 C17.299999999999997 16 20.7 19.5 23.7 21.5Z" fill="#f8d040"/><path d="M23.7 0 C26.7 3 30.1 8 30.1 12 C30.1 16 26.7 19.5 23.7 21.5Z" fill="#f4c22d"/></g>
<g transform="translate(868.31 395.5) scale(1.0122)"><path d="M22.8 18 L24.599999999999998 18 L24.5 90.1 L22.9 90.1Z" fill="#f7d559"/><path d="M23.7 78.2 L0 59.9 L23.7 82.8 L47.4 59.9Z" fill="#f7d04a"/><path d="M23.7 64.2 C13.98 66.54 5.56 59.24 7.5 49.6 L23.7 64.2Z" fill="#f8d040"/><path d="M7.5 49.6 C17.54 48.14 24.02 56.02 23.7 64.2Z" fill="#f4c22d"/><path d="M23.7 64.2 C33.42 66.54 41.84 59.24 39.9 49.6 L23.7 64.2Z" fill="#f8d040"/><path d="M39.9 49.6 C29.86 48.14 23.38 56.02 23.7 64.2Z" fill="#f4c22d"/><path d="M23.7 48.4 C13.98 50.74 5.56 43.44 7.5 33.8 L23.7 48.4Z" fill="#f8d040"/><path d="M7.5 33.8 C17.54 32.34 24.02 40.22 23.7 48.4Z" fill="#f4c22d"/><path d="M23.7 48.4 C33.42 50.74 41.84 43.44 39.9 33.8 L23.7 48.4Z" fill="#f8d040"/><path d="M39.9 33.8 C29.86 32.34 23.38 40.22 23.7 48.4Z" fill="#f4c22d"/><path d="M23.7 32.6 C13.98 34.94 5.56 27.64 7.5 18 L23.7 32.6Z" fill="#f8d040"/><path d="M7.5 18 C17.54 16.54 24.02 24.42 23.7 32.6Z" fill="#f4c22d"/><path d="M23.7 32.6 C33.42 34.94 41.84 27.64 39.9 18 L23.7 32.6Z" fill="#f8d040"/><path d="M39.9 18 C29.86 16.54 23.38 24.42 23.7 32.6Z" fill="#f4c22d"/><path d="M23.7 0 C20.7 3 17.299999999999997 8 17.299999999999997 12 C17.299999999999997 16 20.7 19.5 23.7 21.5Z" fill="#f8d040"/><path d="M23.7 0 C26.7 3 30.1 8 30.1 12 C30.1 16 26.7 19.5 23.7 21.5Z" fill="#f4c22d"/></g>
<g transform="translate(212.8 563.6) scale(0.7342)"><path d="M0 41 C14 37.8 33 43.6 45.6 70 L44.6 73.4 C33 52.5 20 45.2 0 42Z" fill="#c66b2b"/><path d="M86 42.7 C72 44.5 56 54 46.6 73 L45.8 79 C53 68 66 52 86 43.4Z" fill="#c66b2b"/><path d="M8.7 31.2 C24 34.5 39 45 45.9 66 L45.2 67.5 C37 50.8 24 39.8 8.7 32.2Z" fill="#8dc63f"/><path d="M74.4 33.4 C60 34 48.5 44 46.2 67.5 L47.4 68.5 C51.8 50 61.5 38.8 74.4 34.4Z" fill="#8dc63f"/><path d="M39.7 40.2 L35.6 32 L30.5 27.6 L23 27.8 L18 29.8" fill="none" stroke="#f8c824" stroke-width="3.4" stroke-linecap="round" stroke-linejoin="round"/><ellipse cx="35.89" cy="38.74" rx="4.15" ry="2.22" fill="#fbd535" transform="rotate(-150.02 35.89 38.74)"/><ellipse cx="39.38" cy="33.62" rx="3.99" ry="2.14" fill="#f6bd20" transform="rotate(-84.94 39.38 33.62)"/><ellipse cx="33.37" cy="33.25" rx="3.84" ry="2.05" fill="#fbd535" transform="rotate(-146.36 33.37 33.25)"/><ellipse cx="35" cy="28.26" rx="3.68" ry="1.97" fill="#f6bd20" transform="rotate(-111.25 35 28.26)"/><ellipse cx="29.59" cy="29.9" rx="3.52" ry="1.89" fill="#fbd535" transform="rotate(-165.34 29.59 29.9)"/><ellipse cx="28.23" cy="25.43" rx="3.36" ry="1.8" fill="#f6bd20" transform="rotate(202.77 28.23 25.43)"/><ellipse cx="25.33" cy="29.87" rx="3.2" ry="1.72" fill="#fbd535" transform="rotate(156 25.33 29.87)"/><ellipse cx="22.2" cy="25.8" rx="3.04" ry="1.63" fill="#f6bd20" transform="rotate(199.11 22.2 25.8)"/><ellipse cx="20.21" cy="30.98" rx="2.89" ry="1.55" fill="#fbd535" transform="rotate(139.39 20.21 30.98)"/><ellipse cx="16.06" cy="28.62" rx="2.73" ry="1.46" fill="#f6bd20" transform="rotate(175.18 16.06 28.62)"/><path d="M47.9 44 L53 33 L59 25 L65.2 16.8 L69.6 11.4" fill="none" stroke="#f8c824" stroke-width="3.8" stroke-linecap="round" stroke-linejoin="round"/><ellipse cx="46.61" cy="39.91" rx="4.36" ry="2.33" fill="#fbd535" transform="rotate(-98.7 46.61 39.91)"/><ellipse cx="53.14" cy="39.37" rx="4.23" ry="2.26" fill="#f6bd20" transform="rotate(-32.98 53.14 39.37)"/><ellipse cx="49.49" cy="34.11" rx="4.1" ry="2.19" fill="#fbd535" transform="rotate(-95.85 49.49 34.11)"/><ellipse cx="55.7" cy="33.42" rx="3.97" ry="2.12" fill="#f6bd20" transform="rotate(-35.83 55.7 33.42)"/><ellipse cx="53.36" cy="28.28" rx="3.84" ry="2.05" fill="#fbd535" transform="rotate(-81 53.36 28.28)"/><ellipse cx="59.3" cy="28.7" rx="3.72" ry="1.98" fill="#f6bd20" transform="rotate(-26.68 59.3 28.7)"/><ellipse cx="57.37" cy="23.21" rx="3.59" ry="1.92" fill="#fbd535" transform="rotate(-78.15 57.37 23.21)"/><ellipse cx="63.05" cy="23.43" rx="3.46" ry="1.85" fill="#f6bd20" transform="rotate(-29.31 63.05 23.43)"/><ellipse cx="61.42" cy="18.14" rx="3.33" ry="1.78" fill="#fbd535" transform="rotate(-75.08 61.42 18.14)"/><ellipse cx="66.82" cy="18.17" rx="3.2" ry="1.71" fill="#f6bd20" transform="rotate(-32.16 66.82 18.17)"/><ellipse cx="65.59" cy="13.1" rx="3.07" ry="1.64" fill="#fbd535" transform="rotate(-70.15 65.59 13.1)"/><ellipse cx="70.72" cy="13.1" rx="2.94" ry="1.57" fill="#f6bd20" transform="rotate(-32.93 70.72 13.1)"/><path d="M45 55 L43.9 37.2 L41.8 25 L37.7 14.8 L32.6 7.2 L28 3.6" fill="none" stroke="#f8c824" stroke-width="4.2" stroke-linecap="round" stroke-linejoin="round"/><ellipse cx="41.71" cy="51.76" rx="4.77" ry="2.48" fill="#fbd535" transform="rotate(-127.22 41.71 51.76)"/><ellipse cx="47.58" cy="47.95" rx="4.66" ry="2.43" fill="#f6bd20" transform="rotate(-60.91 47.58 47.95)"/><ellipse cx="41.42" cy="44.87" rx="4.56" ry="2.37" fill="#fbd535" transform="rotate(-125.1 41.42 44.87)"/><ellipse cx="47.02" cy="41.07" rx="4.45" ry="2.32" fill="#f6bd20" transform="rotate(-63.03 47.02 41.07)"/><ellipse cx="41.13" cy="37.98" rx="4.35" ry="2.27" fill="#fbd535" transform="rotate(-122.98 41.13 37.98)"/><ellipse cx="46.12" cy="33.94" rx="4.25" ry="2.21" fill="#f6bd20" transform="rotate(-71.38 46.12 33.94)"/><ellipse cx="40.2" cy="31.46" rx="4.14" ry="2.16" fill="#fbd535" transform="rotate(-127.1 40.2 31.46)"/><ellipse cx="44.82" cy="27.16" rx="4.04" ry="2.1" fill="#f6bd20" transform="rotate(-73.5 44.82 27.16)"/><ellipse cx="39.16" cy="24.64" rx="3.93" ry="2.05" fill="#fbd535" transform="rotate(-124.98 39.16 24.64)"/><ellipse cx="42.51" cy="20.13" rx="3.83" ry="1.99" fill="#f6bd20" transform="rotate(-87.74 42.51 20.13)"/><ellipse cx="36.7" cy="18.75" rx="3.72" ry="1.94" fill="#fbd535" transform="rotate(-134.99 36.7 18.75)"/><ellipse cx="39.81" cy="13.79" rx="3.62" ry="1.88" fill="#f6bd20" transform="rotate(-89.86 39.81 13.79)"/><ellipse cx="33.81" cy="13.07" rx="3.51" ry="1.83" fill="#fbd535" transform="rotate(-144.84 33.81 13.07)"/><ellipse cx="35.6" cy="7.72" rx="3.41" ry="1.78" fill="#f6bd20" transform="rotate(-103.94 35.6 7.72)"/><ellipse cx="30.08" cy="7.27" rx="3.3" ry="1.72" fill="#fbd535" transform="rotate(-142.72 30.08 7.27)"/><ellipse cx="30.1" cy="2.62" rx="3.2" ry="1.67" fill="#f6bd20" transform="rotate(-124.15 30.1 2.62)"/><ellipse cx="45.2" cy="44" rx="2.3" ry="7" fill="#fbd535" transform="rotate(-4 45.2 44)"/><ellipse cx="48.2" cy="40" rx="2.1" ry="6.4" fill="#f6bd20" transform="rotate(16 48.2 40)"/><ellipse cx="45" cy="22" rx="2.0" ry="5.6" fill="#fbd535" transform="rotate(6 45 22)"/><ellipse cx="47.6" cy="29.5" rx="2.0" ry="5.8" fill="#f6bd20" transform="rotate(12 47.6 29.5)"/></g>
<g transform="translate(417.7 563.6) scale(0.8608)"><path d="M0 41 C14 37.8 33 43.6 45.6 70 L44.6 73.4 C33 52.5 20 45.2 0 42Z" fill="#c66b2b"/><path d="M86 42.7 C72 44.5 56 54 46.6 73 L45.8 79 C53 68 66 52 86 43.4Z" fill="#c66b2b"/><path d="M8.7 31.2 C24 34.5 39 45 45.9 66 L45.2 67.5 C37 50.8 24 39.8 8.7 32.2Z" fill="#8dc63f"/><path d="M74.4 33.4 C60 34 48.5 44 46.2 67.5 L47.4 68.5 C51.8 50 61.5 38.8 74.4 34.4Z" fill="#8dc63f"/><path d="M39.7 40.2 L35.6 32 L30.5 27.6 L23 27.8 L18 29.8" fill="none" stroke="#f8c824" stroke-width="3.4" stroke-linecap="round" stroke-linejoin="round"/><ellipse cx="35.89" cy="38.74" rx="4.15" ry="2.22" fill="#fbd535" transform="rotate(-150.02 35.89 38.74)"/><ellipse cx="39.38" cy="33.62" rx="3.99" ry="2.14" fill="#f6bd20" transform="rotate(-84.94 39.38 33.62)"/><ellipse cx="33.37" cy="33.25" rx="3.84" ry="2.05" fill="#fbd535" transform="rotate(-146.36 33.37 33.25)"/><ellipse cx="35" cy="28.26" rx="3.68" ry="1.97" fill="#f6bd20" transform="rotate(-111.25 35 28.26)"/><ellipse cx="29.59" cy="29.9" rx="3.52" ry="1.89" fill="#fbd535" transform="rotate(-165.34 29.59 29.9)"/><ellipse cx="28.23" cy="25.43" rx="3.36" ry="1.8" fill="#f6bd20" transform="rotate(202.77 28.23 25.43)"/><ellipse cx="25.33" cy="29.87" rx="3.2" ry="1.72" fill="#fbd535" transform="rotate(156 25.33 29.87)"/><ellipse cx="22.2" cy="25.8" rx="3.04" ry="1.63" fill="#f6bd20" transform="rotate(199.11 22.2 25.8)"/><ellipse cx="20.21" cy="30.98" rx="2.89" ry="1.55" fill="#fbd535" transform="rotate(139.39 20.21 30.98)"/><ellipse cx="16.06" cy="28.62" rx="2.73" ry="1.46" fill="#f6bd20" transform="rotate(175.18 16.06 28.62)"/><path d="M47.9 44 L53 33 L59 25 L65.2 16.8 L69.6 11.4" fill="none" stroke="#f8c824" stroke-width="3.8" stroke-linecap="round" stroke-linejoin="round"/><ellipse cx="46.61" cy="39.91" rx="4.36" ry="2.33" fill="#fbd535" transform="rotate(-98.7 46.61 39.91)"/><ellipse cx="53.14" cy="39.37" rx="4.23" ry="2.26" fill="#f6bd20" transform="rotate(-32.98 53.14 39.37)"/><ellipse cx="49.49" cy="34.11" rx="4.1" ry="2.19" fill="#fbd535" transform="rotate(-95.85 49.49 34.11)"/><ellipse cx="55.7" cy="33.42" rx="3.97" ry="2.12" fill="#f6bd20" transform="rotate(-35.83 55.7 33.42)"/><ellipse cx="53.36" cy="28.28" rx="3.84" ry="2.05" fill="#fbd535" transform="rotate(-81 53.36 28.28)"/><ellipse cx="59.3" cy="28.7" rx="3.72" ry="1.98" fill="#f6bd20" transform="rotate(-26.68 59.3 28.7)"/><ellipse cx="57.37" cy="23.21" rx="3.59" ry="1.92" fill="#fbd535" transform="rotate(-78.15 57.37 23.21)"/><ellipse cx="63.05" cy="23.43" rx="3.46" ry="1.85" fill="#f6bd20" transform="rotate(-29.31 63.05 23.43)"/><ellipse cx="61.42" cy="18.14" rx="3.33" ry="1.78" fill="#fbd535" transform="rotate(-75.08 61.42 18.14)"/><ellipse cx="66.82" cy="18.17" rx="3.2" ry="1.71" fill="#f6bd20" transform="rotate(-32.16 66.82 18.17)"/><ellipse cx="65.59" cy="13.1" rx="3.07" ry="1.64" fill="#fbd535" transform="rotate(-70.15 65.59 13.1)"/><ellipse cx="70.72" cy="13.1" rx="2.94" ry="1.57" fill="#f6bd20" transform="rotate(-32.93 70.72 13.1)"/><path d="M45 55 L43.9 37.2 L41.8 25 L37.7 14.8 L32.6 7.2 L28 3.6" fill="none" stroke="#f8c824" stroke-width="4.2" stroke-linecap="round" stroke-linejoin="round"/><ellipse cx="41.71" cy="51.76" rx="4.77" ry="2.48" fill="#fbd535" transform="rotate(-127.22 41.71 51.76)"/><ellipse cx="47.58" cy="47.95" rx="4.66" ry="2.43" fill="#f6bd20" transform="rotate(-60.91 47.58 47.95)"/><ellipse cx="41.42" cy="44.87" rx="4.56" ry="2.37" fill="#fbd535" transform="rotate(-125.1 41.42 44.87)"/><ellipse cx="47.02" cy="41.07" rx="4.45" ry="2.32" fill="#f6bd20" transform="rotate(-63.03 47.02 41.07)"/><ellipse cx="41.13" cy="37.98" rx="4.35" ry="2.27" fill="#fbd535" transform="rotate(-122.98 41.13 37.98)"/><ellipse cx="46.12" cy="33.94" rx="4.25" ry="2.21" fill="#f6bd20" transform="rotate(-71.38 46.12 33.94)"/><ellipse cx="40.2" cy="31.46" rx="4.14" ry="2.16" fill="#fbd535" transform="rotate(-127.1 40.2 31.46)"/><ellipse cx="44.82" cy="27.16" rx="4.04" ry="2.1" fill="#f6bd20" transform="rotate(-73.5 44.82 27.16)"/><ellipse cx="39.16" cy="24.64" rx="3.93" ry="2.05" fill="#fbd535" transform="rotate(-124.98 39.16 24.64)"/><ellipse cx="42.51" cy="20.13" rx="3.83" ry="1.99" fill="#f6bd20" transform="rotate(-87.74 42.51 20.13)"/><ellipse cx="36.7" cy="18.75" rx="3.72" ry="1.94" fill="#fbd535" transform="rotate(-134.99 36.7 18.75)"/><ellipse cx="39.81" cy="13.79" rx="3.62" ry="1.88" fill="#f6bd20" transform="rotate(-89.86 39.81 13.79)"/><ellipse cx="33.81" cy="13.07" rx="3.51" ry="1.83" fill="#fbd535" transform="rotate(-144.84 33.81 13.07)"/><ellipse cx="35.6" cy="7.72" rx="3.41" ry="1.78" fill="#f6bd20" transform="rotate(-103.94 35.6 7.72)"/><ellipse cx="30.08" cy="7.27" rx="3.3" ry="1.72" fill="#fbd535" transform="rotate(-142.72 30.08 7.27)"/><ellipse cx="30.1" cy="2.62" rx="3.2" ry="1.67" fill="#f6bd20" transform="rotate(-124.15 30.1 2.62)"/><ellipse cx="45.2" cy="44" rx="2.3" ry="7" fill="#fbd535" transform="rotate(-4 45.2 44)"/><ellipse cx="48.2" cy="40" rx="2.1" ry="6.4" fill="#f6bd20" transform="rotate(16 48.2 40)"/><ellipse cx="45" cy="22" rx="2.0" ry="5.6" fill="#fbd535" transform="rotate(6 45 22)"/><ellipse cx="47.6" cy="29.5" rx="2.0" ry="5.8" fill="#f6bd20" transform="rotate(12 47.6 29.5)"/></g>
<g transform="translate(635.9 563.6) scale(0.9291)"><path d="M0 41 C14 37.8 33 43.6 45.6 70 L44.6 73.4 C33 52.5 20 45.2 0 42Z" fill="#c66b2b"/><path d="M86 42.7 C72 44.5 56 54 46.6 73 L45.8 79 C53 68 66 52 86 43.4Z" fill="#c66b2b"/><path d="M8.7 31.2 C24 34.5 39 45 45.9 66 L45.2 67.5 C37 50.8 24 39.8 8.7 32.2Z" fill="#8dc63f"/><path d="M74.4 33.4 C60 34 48.5 44 46.2 67.5 L47.4 68.5 C51.8 50 61.5 38.8 74.4 34.4Z" fill="#8dc63f"/><path d="M39.7 40.2 L35.6 32 L30.5 27.6 L23 27.8 L18 29.8" fill="none" stroke="#f8c824" stroke-width="3.4" stroke-linecap="round" stroke-linejoin="round"/><ellipse cx="35.89" cy="38.74" rx="4.15" ry="2.22" fill="#fbd535" transform="rotate(-150.02 35.89 38.74)"/><ellipse cx="39.38" cy="33.62" rx="3.99" ry="2.14" fill="#f6bd20" transform="rotate(-84.94 39.38 33.62)"/><ellipse cx="33.37" cy="33.25" rx="3.84" ry="2.05" fill="#fbd535" transform="rotate(-146.36 33.37 33.25)"/><ellipse cx="35" cy="28.26" rx="3.68" ry="1.97" fill="#f6bd20" transform="rotate(-111.25 35 28.26)"/><ellipse cx="29.59" cy="29.9" rx="3.52" ry="1.89" fill="#fbd535" transform="rotate(-165.34 29.59 29.9)"/><ellipse cx="28.23" cy="25.43" rx="3.36" ry="1.8" fill="#f6bd20" transform="rotate(202.77 28.23 25.43)"/><ellipse cx="25.33" cy="29.87" rx="3.2" ry="1.72" fill="#fbd535" transform="rotate(156 25.33 29.87)"/><ellipse cx="22.2" cy="25.8" rx="3.04" ry="1.63" fill="#f6bd20" transform="rotate(199.11 22.2 25.8)"/><ellipse cx="20.21" cy="30.98" rx="2.89" ry="1.55" fill="#fbd535" transform="rotate(139.39 20.21 30.98)"/><ellipse cx="16.06" cy="28.62" rx="2.73" ry="1.46" fill="#f6bd20" transform="rotate(175.18 16.06 28.62)"/><path d="M47.9 44 L53 33 L59 25 L65.2 16.8 L69.6 11.4" fill="none" stroke="#f8c824" stroke-width="3.8" stroke-linecap="round" stroke-linejoin="round"/><ellipse cx="46.61" cy="39.91" rx="4.36" ry="2.33" fill="#fbd535" transform="rotate(-98.7 46.61 39.91)"/><ellipse cx="53.14" cy="39.37" rx="4.23" ry="2.26" fill="#f6bd20" transform="rotate(-32.98 53.14 39.37)"/><ellipse cx="49.49" cy="34.11" rx="4.1" ry="2.19" fill="#fbd535" transform="rotate(-95.85 49.49 34.11)"/><ellipse cx="55.7" cy="33.42" rx="3.97" ry="2.12" fill="#f6bd20" transform="rotate(-35.83 55.7 33.42)"/><ellipse cx="53.36" cy="28.28" rx="3.84" ry="2.05" fill="#fbd535" transform="rotate(-81 53.36 28.28)"/><ellipse cx="59.3" cy="28.7" rx="3.72" ry="1.98" fill="#f6bd20" transform="rotate(-26.68 59.3 28.7)"/><ellipse cx="57.37" cy="23.21" rx="3.59" ry="1.92" fill="#fbd535" transform="rotate(-78.15 57.37 23.21)"/><ellipse cx="63.05" cy="23.43" rx="3.46" ry="1.85" fill="#f6bd20" transform="rotate(-29.31 63.05 23.43)"/><ellipse cx="61.42" cy="18.14" rx="3.33" ry="1.78" fill="#fbd535" transform="rotate(-75.08 61.42 18.14)"/><ellipse cx="66.82" cy="18.17" rx="3.2" ry="1.71" fill="#f6bd20" transform="rotate(-32.16 66.82 18.17)"/><ellipse cx="65.59" cy="13.1" rx="3.07" ry="1.64" fill="#fbd535" transform="rotate(-70.15 65.59 13.1)"/><ellipse cx="70.72" cy="13.1" rx="2.94" ry="1.57" fill="#f6bd20" transform="rotate(-32.93 70.72 13.1)"/><path d="M45 55 L43.9 37.2 L41.8 25 L37.7 14.8 L32.6 7.2 L28 3.6" fill="none" stroke="#f8c824" stroke-width="4.2" stroke-linecap="round" stroke-linejoin="round"/><ellipse cx="41.71" cy="51.76" rx="4.77" ry="2.48" fill="#fbd535" transform="rotate(-127.22 41.71 51.76)"/><ellipse cx="47.58" cy="47.95" rx="4.66" ry="2.43" fill="#f6bd20" transform="rotate(-60.91 47.58 47.95)"/><ellipse cx="41.42" cy="44.87" rx="4.56" ry="2.37" fill="#fbd535" transform="rotate(-125.1 41.42 44.87)"/><ellipse cx="47.02" cy="41.07" rx="4.45" ry="2.32" fill="#f6bd20" transform="rotate(-63.03 47.02 41.07)"/><ellipse cx="41.13" cy="37.98" rx="4.35" ry="2.27" fill="#fbd535" transform="rotate(-122.98 41.13 37.98)"/><ellipse cx="46.12" cy="33.94" rx="4.25" ry="2.21" fill="#f6bd20" transform="rotate(-71.38 46.12 33.94)"/><ellipse cx="40.2" cy="31.46" rx="4.14" ry="2.16" fill="#fbd535" transform="rotate(-127.1 40.2 31.46)"/><ellipse cx="44.82" cy="27.16" rx="4.04" ry="2.1" fill="#f6bd20" transform="rotate(-73.5 44.82 27.16)"/><ellipse cx="39.16" cy="24.64" rx="3.93" ry="2.05" fill="#fbd535" transform="rotate(-124.98 39.16 24.64)"/><ellipse cx="42.51" cy="20.13" rx="3.83" ry="1.99" fill="#f6bd20" transform="rotate(-87.74 42.51 20.13)"/><ellipse cx="36.7" cy="18.75" rx="3.72" ry="1.94" fill="#fbd535" transform="rotate(-134.99 36.7 18.75)"/><ellipse cx="39.81" cy="13.79" rx="3.62" ry="1.88" fill="#f6bd20" transform="rotate(-89.86 39.81 13.79)"/><ellipse cx="33.81" cy="13.07" rx="3.51" ry="1.83" fill="#fbd535" transform="rotate(-144.84 33.81 13.07)"/><ellipse cx="35.6" cy="7.72" rx="3.41" ry="1.78" fill="#f6bd20" transform="rotate(-103.94 35.6 7.72)"/><ellipse cx="30.08" cy="7.27" rx="3.3" ry="1.72" fill="#fbd535" transform="rotate(-142.72 30.08 7.27)"/><ellipse cx="30.1" cy="2.62" rx="3.2" ry="1.67" fill="#f6bd20" transform="rotate(-124.15 30.1 2.62)"/><ellipse cx="45.2" cy="44" rx="2.3" ry="7" fill="#fbd535" transform="rotate(-4 45.2 44)"/><ellipse cx="48.2" cy="40" rx="2.1" ry="6.4" fill="#f6bd20" transform="rotate(16 48.2 40)"/><ellipse cx="45" cy="22" rx="2.0" ry="5.6" fill="#fbd535" transform="rotate(6 45 22)"/><ellipse cx="47.6" cy="29.5" rx="2.0" ry="5.8" fill="#f6bd20" transform="rotate(12 47.6 29.5)"/></g>
<g transform="translate(849.3 563.6) scale(1.0000)"><path d="M0 41 C14 37.8 33 43.6 45.6 70 L44.6 73.4 C33 52.5 20 45.2 0 42Z" fill="#c66b2b"/><path d="M86 42.7 C72 44.5 56 54 46.6 73 L45.8 79 C53 68 66 52 86 43.4Z" fill="#c66b2b"/><path d="M8.7 31.2 C24 34.5 39 45 45.9 66 L45.2 67.5 C37 50.8 24 39.8 8.7 32.2Z" fill="#8dc63f"/><path d="M74.4 33.4 C60 34 48.5 44 46.2 67.5 L47.4 68.5 C51.8 50 61.5 38.8 74.4 34.4Z" fill="#8dc63f"/><path d="M39.7 40.2 L35.6 32 L30.5 27.6 L23 27.8 L18 29.8" fill="none" stroke="#f8c824" stroke-width="3.4" stroke-linecap="round" stroke-linejoin="round"/><ellipse cx="35.89" cy="38.74" rx="4.15" ry="2.22" fill="#fbd535" transform="rotate(-150.02 35.89 38.74)"/><ellipse cx="39.38" cy="33.62" rx="3.99" ry="2.14" fill="#f6bd20" transform="rotate(-84.94 39.38 33.62)"/><ellipse cx="33.37" cy="33.25" rx="3.84" ry="2.05" fill="#fbd535" transform="rotate(-146.36 33.37 33.25)"/><ellipse cx="35" cy="28.26" rx="3.68" ry="1.97" fill="#f6bd20" transform="rotate(-111.25 35 28.26)"/><ellipse cx="29.59" cy="29.9" rx="3.52" ry="1.89" fill="#fbd535" transform="rotate(-165.34 29.59 29.9)"/><ellipse cx="28.23" cy="25.43" rx="3.36" ry="1.8" fill="#f6bd20" transform="rotate(202.77 28.23 25.43)"/><ellipse cx="25.33" cy="29.87" rx="3.2" ry="1.72" fill="#fbd535" transform="rotate(156 25.33 29.87)"/><ellipse cx="22.2" cy="25.8" rx="3.04" ry="1.63" fill="#f6bd20" transform="rotate(199.11 22.2 25.8)"/><ellipse cx="20.21" cy="30.98" rx="2.89" ry="1.55" fill="#fbd535" transform="rotate(139.39 20.21 30.98)"/><ellipse cx="16.06" cy="28.62" rx="2.73" ry="1.46" fill="#f6bd20" transform="rotate(175.18 16.06 28.62)"/><path d="M47.9 44 L53 33 L59 25 L65.2 16.8 L69.6 11.4" fill="none" stroke="#f8c824" stroke-width="3.8" stroke-linecap="round" stroke-linejoin="round"/><ellipse cx="46.61" cy="39.91" rx="4.36" ry="2.33" fill="#fbd535" transform="rotate(-98.7 46.61 39.91)"/><ellipse cx="53.14" cy="39.37" rx="4.23" ry="2.26" fill="#f6bd20" transform="rotate(-32.98 53.14 39.37)"/><ellipse cx="49.49" cy="34.11" rx="4.1" ry="2.19" fill="#fbd535" transform="rotate(-95.85 49.49 34.11)"/><ellipse cx="55.7" cy="33.42" rx="3.97" ry="2.12" fill="#f6bd20" transform="rotate(-35.83 55.7 33.42)"/><ellipse cx="53.36" cy="28.28" rx="3.84" ry="2.05" fill="#fbd535" transform="rotate(-81 53.36 28.28)"/><ellipse cx="59.3" cy="28.7" rx="3.72" ry="1.98" fill="#f6bd20" transform="rotate(-26.68 59.3 28.7)"/><ellipse cx="57.37" cy="23.21" rx="3.59" ry="1.92" fill="#fbd535" transform="rotate(-78.15 57.37 23.21)"/><ellipse cx="63.05" cy="23.43" rx="3.46" ry="1.85" fill="#f6bd20" transform="rotate(-29.31 63.05 23.43)"/><ellipse cx="61.42" cy="18.14" rx="3.33" ry="1.78" fill="#fbd535" transform="rotate(-75.08 61.42 18.14)"/><ellipse cx="66.82" cy="18.17" rx="3.2" ry="1.71" fill="#f6bd20" transform="rotate(-32.16 66.82 18.17)"/><ellipse cx="65.59" cy="13.1" rx="3.07" ry="1.64" fill="#fbd535" transform="rotate(-70.15 65.59 13.1)"/><ellipse cx="70.72" cy="13.1" rx="2.94" ry="1.57" fill="#f6bd20" transform="rotate(-32.93 70.72 13.1)"/><path d="M45 55 L43.9 37.2 L41.8 25 L37.7 14.8 L32.6 7.2 L28 3.6" fill="none" stroke="#f8c824" stroke-width="4.2" stroke-linecap="round" stroke-linejoin="round"/><ellipse cx="41.71" cy="51.76" rx="4.77" ry="2.48" fill="#fbd535" transform="rotate(-127.22 41.71 51.76)"/><ellipse cx="47.58" cy="47.95" rx="4.66" ry="2.43" fill="#f6bd20" transform="rotate(-60.91 47.58 47.95)"/><ellipse cx="41.42" cy="44.87" rx="4.56" ry="2.37" fill="#fbd535" transform="rotate(-125.1 41.42 44.87)"/><ellipse cx="47.02" cy="41.07" rx="4.45" ry="2.32" fill="#f6bd20" transform="rotate(-63.03 47.02 41.07)"/><ellipse cx="41.13" cy="37.98" rx="4.35" ry="2.27" fill="#fbd535" transform="rotate(-122.98 41.13 37.98)"/><ellipse cx="46.12" cy="33.94" rx="4.25" ry="2.21" fill="#f6bd20" transform="rotate(-71.38 46.12 33.94)"/><ellipse cx="40.2" cy="31.46" rx="4.14" ry="2.16" fill="#fbd535" transform="rotate(-127.1 40.2 31.46)"/><ellipse cx="44.82" cy="27.16" rx="4.04" ry="2.1" fill="#f6bd20" transform="rotate(-73.5 44.82 27.16)"/><ellipse cx="39.16" cy="24.64" rx="3.93" ry="2.05" fill="#fbd535" transform="rotate(-124.98 39.16 24.64)"/><ellipse cx="42.51" cy="20.13" rx="3.83" ry="1.99" fill="#f6bd20" transform="rotate(-87.74 42.51 20.13)"/><ellipse cx="36.7" cy="18.75" rx="3.72" ry="1.94" fill="#fbd535" transform="rotate(-134.99 36.7 18.75)"/><ellipse cx="39.81" cy="13.79" rx="3.62" ry="1.88" fill="#f6bd20" transform="rotate(-89.86 39.81 13.79)"/><ellipse cx="33.81" cy="13.07" rx="3.51" ry="1.83" fill="#fbd535" transform="rotate(-144.84 33.81 13.07)"/><ellipse cx="35.6" cy="7.72" rx="3.41" ry="1.78" fill="#f6bd20" transform="rotate(-103.94 35.6 7.72)"/><ellipse cx="30.08" cy="7.27" rx="3.3" ry="1.72" fill="#fbd535" transform="rotate(-142.72 30.08 7.27)"/><ellipse cx="30.1" cy="2.62" rx="3.2" ry="1.67" fill="#f6bd20" transform="rotate(-124.15 30.1 2.62)"/><ellipse cx="45.2" cy="44" rx="2.3" ry="7" fill="#fbd535" transform="rotate(-4 45.2 44)"/><ellipse cx="48.2" cy="40" rx="2.1" ry="6.4" fill="#f6bd20" transform="rotate(16 48.2 40)"/><ellipse cx="45" cy="22" rx="2.0" ry="5.6" fill="#fbd535" transform="rotate(6 45 22)"/><ellipse cx="47.6" cy="29.5" rx="2.0" ry="5.8" fill="#f6bd20" transform="rotate(12 47.6 29.5)"/></g>
<g transform="translate(227.01 711) scale(0.9548)"><rect x="5.65" y="10.7" width="1.9" height="20.3" rx="0.9" fill="#e39a33"/><rect x="11.25" y="5.4" width="1.9" height="25.6" rx="0.9" fill="#e39a33"/><rect x="16.85" y="0" width="1.9" height="31" rx="0.9" fill="#e39a33"/><rect x="22.55" y="5.1" width="1.9" height="25.9" rx="0.9" fill="#e39a33"/><rect x="28.15" y="10.7" width="1.9" height="20.3" rx="0.9" fill="#e39a33"/><rect x="17.2" y="30" width="1.2" height="54" fill="#f3b53a"/><path d="M17.8 76.2 L0 60.9 L17.8 79.4 L35.6 60.9Z" fill="#f5c04a"/><path d="M17.8 62.6 C10.48 64.93 4.14 58.79 5.6 51.4 L17.8 62.6Z" fill="#f6b720"/><path d="M5.6 51.4 C13.16 50.28 18.04 56.33 17.8 62.6Z" fill="#f0a01f"/><path d="M17.8 62.6 C25.12 64.93 31.46 58.79 30 51.4 L17.8 62.6Z" fill="#f6b720"/><path d="M30 51.4 C22.44 50.28 17.56 56.33 17.8 62.6Z" fill="#f0a01f"/><path d="M17.8 50.9 C10.48 53.23 4.14 47.09 5.6 39.7 L17.8 50.9Z" fill="#f6b720"/><path d="M5.6 39.7 C13.16 38.58 18.04 44.63 17.8 50.9Z" fill="#f0a01f"/><path d="M17.8 50.9 C25.12 53.23 31.46 47.09 30 39.7 L17.8 50.9Z" fill="#f6b720"/><path d="M30 39.7 C22.44 38.58 17.56 44.63 17.8 50.9Z" fill="#f0a01f"/><path d="M17.8 39.6 C10.48 41.93 4.14 35.79 5.6 28.4 L17.8 39.6Z" fill="#f6b720"/><path d="M5.6 28.4 C13.16 27.28 18.04 33.33 17.8 39.6Z" fill="#f0a01f"/><path d="M17.8 39.6 C25.12 41.93 31.46 35.79 30 28.4 L17.8 39.6Z" fill="#f6b720"/><path d="M30 28.4 C22.44 27.28 17.56 33.33 17.8 39.6Z" fill="#f0a01f"/><path d="M17.8 16 C15.4 18.4 12.700000000000001 22.4 12.700000000000001 26 C12.700000000000001 29.6 15.200000000000001 32 17.8 33.6 C20.400000000000002 32 22.9 29.6 22.9 26 C22.9 22.4 20.2 18.4 17.8 16Z" fill="#f0a01f"/></g>
<g transform="translate(438.49 711) scale(0.8548)"><rect x="5.65" y="10.7" width="1.9" height="20.3" rx="0.9" fill="#e39a33"/><rect x="11.25" y="5.4" width="1.9" height="25.6" rx="0.9" fill="#e39a33"/><rect x="16.85" y="0" width="1.9" height="31" rx="0.9" fill="#e39a33"/><rect x="22.55" y="5.1" width="1.9" height="25.9" rx="0.9" fill="#e39a33"/><rect x="28.15" y="10.7" width="1.9" height="20.3" rx="0.9" fill="#e39a33"/><rect x="17.2" y="30" width="1.2" height="54" fill="#f3b53a"/><path d="M17.8 76.2 L0 60.9 L17.8 79.4 L35.6 60.9Z" fill="#f5c04a"/><path d="M17.8 62.6 C10.48 64.93 4.14 58.79 5.6 51.4 L17.8 62.6Z" fill="#f6b720"/><path d="M5.6 51.4 C13.16 50.28 18.04 56.33 17.8 62.6Z" fill="#f0a01f"/><path d="M17.8 62.6 C25.12 64.93 31.46 58.79 30 51.4 L17.8 62.6Z" fill="#f6b720"/><path d="M30 51.4 C22.44 50.28 17.56 56.33 17.8 62.6Z" fill="#f0a01f"/><path d="M17.8 50.9 C10.48 53.23 4.14 47.09 5.6 39.7 L17.8 50.9Z" fill="#f6b720"/><path d="M5.6 39.7 C13.16 38.58 18.04 44.63 17.8 50.9Z" fill="#f0a01f"/><path d="M17.8 50.9 C25.12 53.23 31.46 47.09 30 39.7 L17.8 50.9Z" fill="#f6b720"/><path d="M30 39.7 C22.44 38.58 17.56 44.63 17.8 50.9Z" fill="#f0a01f"/><path d="M17.8 39.6 C10.48 41.93 4.14 35.79 5.6 28.4 L17.8 39.6Z" fill="#f6b720"/><path d="M5.6 28.4 C13.16 27.28 18.04 33.33 17.8 39.6Z" fill="#f0a01f"/><path d="M17.8 39.6 C25.12 41.93 31.46 35.79 30 28.4 L17.8 39.6Z" fill="#f6b720"/><path d="M30 28.4 C22.44 27.28 17.56 33.33 17.8 39.6Z" fill="#f0a01f"/><path d="M17.8 16 C15.4 18.4 12.700000000000001 22.4 12.700000000000001 26 C12.700000000000001 29.6 15.200000000000001 32 17.8 33.6 C20.400000000000002 32 22.9 29.6 22.9 26 C22.9 22.4 20.2 18.4 17.8 16Z" fill="#f0a01f"/></g>
<g transform="translate(660.83 715) scale(0.8071)"><rect x="5.65" y="10.7" width="1.9" height="20.3" rx="0.9" fill="#e39a33"/><rect x="11.25" y="5.4" width="1.9" height="25.6" rx="0.9" fill="#e39a33"/><rect x="16.85" y="0" width="1.9" height="31" rx="0.9" fill="#e39a33"/><rect x="22.55" y="5.1" width="1.9" height="25.9" rx="0.9" fill="#e39a33"/><rect x="28.15" y="10.7" width="1.9" height="20.3" rx="0.9" fill="#e39a33"/><rect x="17.2" y="30" width="1.2" height="54" fill="#f3b53a"/><path d="M17.8 76.2 L0 60.9 L17.8 79.4 L35.6 60.9Z" fill="#f5c04a"/><path d="M17.8 62.6 C10.48 64.93 4.14 58.79 5.6 51.4 L17.8 62.6Z" fill="#f6b720"/><path d="M5.6 51.4 C13.16 50.28 18.04 56.33 17.8 62.6Z" fill="#f0a01f"/><path d="M17.8 62.6 C25.12 64.93 31.46 58.79 30 51.4 L17.8 62.6Z" fill="#f6b720"/><path d="M30 51.4 C22.44 50.28 17.56 56.33 17.8 62.6Z" fill="#f0a01f"/><path d="M17.8 50.9 C10.48 53.23 4.14 47.09 5.6 39.7 L17.8 50.9Z" fill="#f6b720"/><path d="M5.6 39.7 C13.16 38.58 18.04 44.63 17.8 50.9Z" fill="#f0a01f"/><path d="M17.8 50.9 C25.12 53.23 31.46 47.09 30 39.7 L17.8 50.9Z" fill="#f6b720"/><path d="M30 39.7 C22.44 38.58 17.56 44.63 17.8 50.9Z" fill="#f0a01f"/><path d="M17.8 39.6 C10.48 41.93 4.14 35.79 5.6 28.4 L17.8 39.6Z" fill="#f6b720"/><path d="M5.6 28.4 C13.16 27.28 18.04 33.33 17.8 39.6Z" fill="#f0a01f"/><path d="M17.8 39.6 C25.12 41.93 31.46 35.79 30 28.4 L17.8 39.6Z" fill="#f6b720"/><path d="M30 28.4 C22.44 27.28 17.56 33.33 17.8 39.6Z" fill="#f0a01f"/><path d="M17.8 16 C15.4 18.4 12.700000000000001 22.4 12.700000000000001 26 C12.700000000000001 29.6 15.200000000000001 32 17.8 33.6 C20.400000000000002 32 22.9 29.6 22.9 26 C22.9 22.4 20.2 18.4 17.8 16Z" fill="#f0a01f"/></g>
<g transform="translate(875.29 711.5) scale(1.0060)"><rect x="5.65" y="10.7" width="1.9" height="20.3" rx="0.9" fill="#e39a33"/><rect x="11.25" y="5.4" width="1.9" height="25.6" rx="0.9" fill="#e39a33"/><rect x="16.85" y="0" width="1.9" height="31" rx="0.9" fill="#e39a33"/><rect x="22.55" y="5.1" width="1.9" height="25.9" rx="0.9" fill="#e39a33"/><rect x="28.15" y="10.7" width="1.9" height="20.3" rx="0.9" fill="#e39a33"/><rect x="17.2" y="30" width="1.2" height="54" fill="#f3b53a"/><path d="M17.8 76.2 L0 60.9 L17.8 79.4 L35.6 60.9Z" fill="#f5c04a"/><path d="M17.8 62.6 C10.48 64.93 4.14 58.79 5.6 51.4 L17.8 62.6Z" fill="#f6b720"/><path d="M5.6 51.4 C13.16 50.28 18.04 56.33 17.8 62.6Z" fill="#f0a01f"/><path d="M17.8 62.6 C25.12 64.93 31.46 58.79 30 51.4 L17.8 62.6Z" fill="#f6b720"/><path d="M30 51.4 C22.44 50.28 17.56 56.33 17.8 62.6Z" fill="#f0a01f"/><path d="M17.8 50.9 C10.48 53.23 4.14 47.09 5.6 39.7 L17.8 50.9Z" fill="#f6b720"/><path d="M5.6 39.7 C13.16 38.58 18.04 44.63 17.8 50.9Z" fill="#f0a01f"/><path d="M17.8 50.9 C25.12 53.23 31.46 47.09 30 39.7 L17.8 50.9Z" fill="#f6b720"/><path d="M30 39.7 C22.44 38.58 17.56 44.63 17.8 50.9Z" fill="#f0a01f"/><path d="M17.8 39.6 C10.48 41.93 4.14 35.79 5.6 28.4 L17.8 39.6Z" fill="#f6b720"/><path d="M5.6 28.4 C13.16 27.28 18.04 33.33 17.8 39.6Z" fill="#f0a01f"/><path d="M17.8 39.6 C25.12 41.93 31.46 35.79 30 28.4 L17.8 39.6Z" fill="#f6b720"/><path d="M30 28.4 C22.44 27.28 17.56 33.33 17.8 39.6Z" fill="#f0a01f"/><path d="M17.8 16 C15.4 18.4 12.700000000000001 22.4 12.700000000000001 26 C12.700000000000001 29.6 15.200000000000001 32 17.8 33.6 C20.400000000000002 32 22.9 29.6 22.9 26 C22.9 22.4 20.2 18.4 17.8 16Z" fill="#f0a01f"/></g>
<g transform="translate(60.4 974.2)">
<rect x="0" y="0" width="29.4" height="29.4" fill="#000"/>
<rect x="30.9" y="0" width="29.45" height="29.4" fill="#e2001a"/>
<rect x="0" y="30.9" width="29.4" height="29.3" fill="#58ab27"/>
<rect x="30.9" y="30.9" width="29.45" height="29.3" fill="#fdd500"/>
<path d="M15.3 2 C17.6 2 19 3.4 20.3 4.7 C22 4.6 23.6 5.2 24.4 6.3 C26 7.2 26.8 8.8 26.6 10.4 C27.6 11.8 27.8 13.8 27.2 15.4 C27.6 17 27 18.6 26 19.5 C25.6 20.8 24.6 21.5 23.5 21.7 L22.5 23 C21.8 24.2 21 25.2 20.3 26.1 C19.2 27.4 18 28.4 17.1 29.4 L16.9 31 L17 46 C17.2 50 17.9 52.8 18.7 54.9 L11.5 54.9 C12.2 52.8 12.6 50 12.7 46 L12.9 31 L12.75 29.4 C11.8 28.6 11 27.9 10.2 27.1 C9.2 26 8.4 25 7.7 23.9 L6.8 22 C5.4 21.6 4.4 20.8 3.9 19.5 C2.8 18.4 2.3 16.9 2.5 15.4 C2.2 13.8 2.5 12.2 3.3 11 C3.4 9.4 4.1 8 5.2 7.2 C5.8 6.1 6.8 5.5 8 5.35 C8.6 4.8 9.4 4.5 10.2 4.4 C10.9 3.6 11.6 3 12.4 2.5 C13.3 2.1 14.3 2 15.3 2Z" fill="#fff"/>
<path d="M9.7 22.1 L12.3 24.5 M20.2 22.1 L17.6 25" stroke="#000" stroke-width="1.05" stroke-linecap="round" fill="none"/>
<g transform="translate(30.9 0)" fill="#fff">
<path d="M0 16.7 C2 16.3 5 16.1 7.8 16.4 C4.8 16.9 2 18.2 0 19.9Z"/>
<path d="M0 25.2 C4.6 21.6 11 18.8 19.5 17.3 C13.5 19.6 8.6 23.6 4.7 29.4 L0 29.4Z"/>
<path d="M11.8 29.4 C15 24.6 20.2 21 26.7 19.2 C22.6 21.6 19.6 25 17.3 29.4Z"/>
</g>
<g transform="translate(30.9 30.9)" fill="#fff8c0">
<path d="M1.7 11.65 C3.2 10.2 5.4 9 8.2 8.75 C11 8.6 13 10.2 15.2 11.9 C18 14.1 21 15.6 24 15.8 C25.6 15.9 27 16.1 28.2 16.4 C26.6 17.4 24.6 17.8 22.4 17.7 C19.2 17.5 16.8 16.4 14.4 14.8 C11.8 13 9.4 11.2 6.1 10.9 C4.4 10.8 3 11.1 1.7 11.65Z"/>
<path d="M0 18.9 C1.8 17.6 4 16.5 6.1 16.3 C7 16.3 7.8 16.6 8.3 17 C6 17.1 4.4 17.9 3 18.6 C1.8 19.2 0.8 19.8 0 20.4Z" fill="#fff27a"/>
<path d="M15 21.4 C16.4 20.9 17.6 20.9 18.8 21.1 C21 21.6 22.6 22.8 24 23.6 C25.8 24.6 27.6 25.5 29.4 26.1 L29.4 27.2 C27.2 26.8 25.2 26 23.5 25.1 C21.8 24.2 20.4 23 18.7 22.4 C17.4 22 16.2 21.7 15 21.4Z" fill="#fff27a"/>
</g>
</g>
</svg>
<h1><span class="t" style="left:77.20px;top:27.44px;font-size:48.5px;font-weight:700;font-style:normal;color:#fff;transform:scaleX(0.9536)">Wie</span> <span class="t" style="left:169.38px;top:27.44px;font-size:48.5px;font-weight:700;font-style:normal;color:#fff;transform:scaleX(0.9051)">haben</span> <span class="t" style="left:309.07px;top:27.44px;font-size:48.5px;font-weight:700;font-style:normal;color:#fff;transform:scaleX(0.8630)">sich</span> <span class="t" style="left:403.16px;top:27.44px;font-size:48.5px;font-weight:700;font-style:normal;color:#fff;transform:scaleX(0.9182)">die</span> <span class="t" style="left:478.86px;top:27.44px;font-size:48.5px;font-weight:700;font-style:normal;color:#fff;transform:scaleX(0.9125)">Erntemengen</span> <span class="t" style="left:773.15px;top:27.44px;font-size:48.5px;font-weight:700;font-style:normal;color:#fff;transform:scaleX(0.9492)">für</span> <span class="t" style="left:846.17px;top:27.44px;font-size:48.5px;font-weight:700;font-style:normal;color:#fff;transform:scaleX(0.9171)">Getreide</span> <span class="t" style="left:164.80px;top:87.54px;font-size:48.5px;font-weight:700;font-style:normal;color:#fff;transform:scaleX(0.9750)">weltweit</span> <span class="t" style="left:359.24px;top:87.54px;font-size:48.5px;font-weight:700;font-style:normal;color:#fff;transform:scaleX(0.9309)">entwickelt?</span> <span class="t" style="left:619.04px;top:98.97px;font-size:35px;font-weight:400;font-style:italic;color:#fff;-webkit-text-stroke:1.5px #fff;transform:scaleX(0.9622)">(in</span> <span class="t" style="left:667.40px;top:98.97px;font-size:35px;font-weight:400;font-style:italic;color:#fff;-webkit-text-stroke:1.5px #fff;transform:scaleX(1.0248)">Millionen</span> <span class="t" style="left:818.08px;top:98.97px;font-size:35px;font-weight:400;font-style:italic;color:#fff;-webkit-text-stroke:1.5px #fff;transform:scaleX(0.9589)">Tonnen)</span></h1>
<div class="t" style="left:68.69px;top:271.75px;font-size:29px;font-weight:400;font-style:normal;color:#525c62;-webkit-text-stroke:1.25px #525c62;transform:scaleX(0.9559)">Mais</div>
<div class="t" style="left:55.40px;top:428.65px;font-size:29px;font-weight:400;font-style:normal;color:#525c62;-webkit-text-stroke:1.25px #525c62;transform:scaleX(0.9432)">Weizen</div>
<div class="t" style="left:74.94px;top:586.85px;font-size:29px;font-weight:400;font-style:normal;color:#525c62;-webkit-text-stroke:1.25px #525c62;transform:scaleX(0.8821)">Reis</div>
<div class="t" style="left:58.35px;top:742.75px;font-size:29px;font-weight:400;font-style:normal;color:#525c62;-webkit-text-stroke:1.25px #525c62;transform:scaleX(0.9471)">Gerste</div>
<div class="t" style="left:292.45px;top:272.70px;font-size:28px;font-weight:400;font-style:normal;color:#e9972d;-webkit-text-stroke:1.25px #e9972d;transform:scaleX(0.9536)">826,4</div>
<div class="t" style="left:511.24px;top:272.70px;font-size:28px;font-weight:400;font-style:normal;color:#e9972d;-webkit-text-stroke:1.25px #e9972d;transform:scaleX(0.9565)">995,4</div>
<div class="t" style="left:706.47px;top:272.70px;font-size:28px;font-weight:400;font-style:normal;color:#e9972d;-webkit-text-stroke:1.25px #e9972d;transform:scaleX(0.9659)">1.078,0</div>
<div class="t" style="left:924.08px;top:272.70px;font-size:28px;font-weight:400;font-style:normal;color:#e9972d;-webkit-text-stroke:1.25px #e9972d;transform:scaleX(0.9615)">1.108,2</div>
<div class="t" style="left:293.34px;top:429.80px;font-size:28px;font-weight:400;font-style:normal;color:#f3c321;-webkit-text-stroke:1.25px #f3c321;transform:scaleX(0.9565)">687,4</div>
<div class="t" style="left:510.04px;top:429.80px;font-size:28px;font-weight:400;font-style:normal;color:#f3c321;-webkit-text-stroke:1.25px #f3c321;transform:scaleX(0.9588)">715,1</div>
<div class="t" style="left:728.62px;top:429.80px;font-size:28px;font-weight:400;font-style:normal;color:#f3c321;-webkit-text-stroke:1.25px #f3c321;transform:scaleX(0.9824)">761,9</div>
<div class="t" style="left:947.34px;top:429.80px;font-size:28px;font-weight:400;font-style:normal;color:#f3c321;-webkit-text-stroke:1.25px #f3c321;transform:scaleX(0.9588)">768,1</div>
<div class="t" style="left:293.40px;top:588.20px;font-size:28px;font-weight:400;font-style:normal;color:#c46622;-webkit-text-stroke:1.25px #c46622;transform:scaleX(0.9429)">440,0</div>
<div class="t" style="left:513.00px;top:588.20px;font-size:28px;font-weight:400;font-style:normal;color:#c46622;-webkit-text-stroke:1.25px #c46622;transform:scaleX(0.9507)">478,3</div>
<div class="t" style="left:730.40px;top:588.20px;font-size:28px;font-weight:400;font-style:normal;color:#c46622;-webkit-text-stroke:1.25px #c46622;transform:scaleX(0.9623)">494,9</div>
<div class="t" style="left:948.30px;top:588.20px;font-size:28px;font-weight:400;font-style:normal;color:#c46622;-webkit-text-stroke:1.25px #c46622;transform:scaleX(0.9623)">497,9</div>
<div class="t" style="left:291.43px;top:744.90px;font-size:28px;font-weight:400;font-style:normal;color:#ea982b;-webkit-text-stroke:1.25px #ea982b;transform:scaleX(0.9851)">150,9</div>
<div class="t" style="left:509.43px;top:744.90px;font-size:28px;font-weight:400;font-style:normal;color:#ea982b;-webkit-text-stroke:1.25px #ea982b;transform:scaleX(0.9851)">144,3</div>
<div class="t" style="left:727.61px;top:744.90px;font-size:28px;font-weight:400;font-style:normal;color:#ea982b;-webkit-text-stroke:1.25px #ea982b;transform:scaleX(0.9970)">143,8</div>
<div class="t" style="left:946.35px;top:744.90px;font-size:28px;font-weight:400;font-style:normal;color:#ea982b;-webkit-text-stroke:1.25px #ea982b;transform:scaleX(0.9731)">152,3</div>
<div class="t" style="left:226.39px;top:855.69px;font-size:28.6px;font-weight:400;font-style:normal;color:#525c62;-webkit-text-stroke:1.25px #525c62;transform:scaleX(1.0078)">2009/10</div>
<div class="t" style="left:443.50px;top:855.69px;font-size:28.6px;font-weight:400;font-style:normal;color:#525c62;-webkit-text-stroke:1.25px #525c62;transform:scaleX(1.0010)">2013/14</div>
<div class="t" style="left:660.79px;top:855.69px;font-size:28.6px;font-weight:400;font-style:normal;color:#525c62;-webkit-text-stroke:1.25px #525c62;transform:scaleX(1.0108)">2017/18</div>
<div class="t" style="left:870.47px;top:855.69px;font-size:28.6px;font-weight:400;font-style:normal;color:#525c62;-webkit-text-stroke:1.25px #525c62;transform:scaleX(1.0274)">2019/20*</div>
<div class="t" style="left:871.80px;top:895.26px;font-size:18px;font-weight:400;font-style:italic;color:#525c62;transform:scaleX(0.9958)">* Schätzung</div>
<div class="t" style="left:133.78px;top:994.32px;font-size:21px;font-weight:700;font-style:normal;color:#000;transform:scaleX(0.9246)">Bundesinformationszentrum</div>
<div class="t" style="left:133.76px;top:1016.52px;font-size:21px;font-weight:700;font-style:normal;color:#000;transform:scaleX(0.9378)">Landwirtschaft</div>
<p><span class="t" style="left:674.63px;top:986.45px;font-size:22.5px;font-weight:400;font-style:normal;color:#4d565c;transform:scaleX(0.9691)">Quelle:</span> <span class="t" style="left:748.84px;top:986.45px;font-size:22.5px;font-weight:400;font-style:normal;color:#4d565c;transform:scaleX(0.8786)">US</span> <span class="t" style="left:782.34px;top:986.45px;font-size:22.5px;font-weight:400;font-style:normal;color:#4d565c;transform:scaleX(0.9791)">Department</span> <span class="t" style="left:903.82px;top:986.45px;font-size:22.5px;font-weight:400;font-style:normal;color:#4d565c;transform:scaleX(1.0833)">of</span> <span class="t" style="left:928.80px;top:986.45px;font-size:22.5px;font-weight:400;font-style:normal;color:#4d565c;transform:scaleX(0.9887)">Agriculture</span><br><span class="t" style="left:974.50px;top:1014.25px;font-size:22.5px;font-weight:400;font-style:normal;color:#4d565c;transform:scaleX(0.9750)">©</span> <span class="t" style="left:998.11px;top:1014.25px;font-size:22.5px;font-weight:400;font-style:normal;color:#4d565c;transform:scaleX(0.8450)">BLE</span></p>
</body></html>
